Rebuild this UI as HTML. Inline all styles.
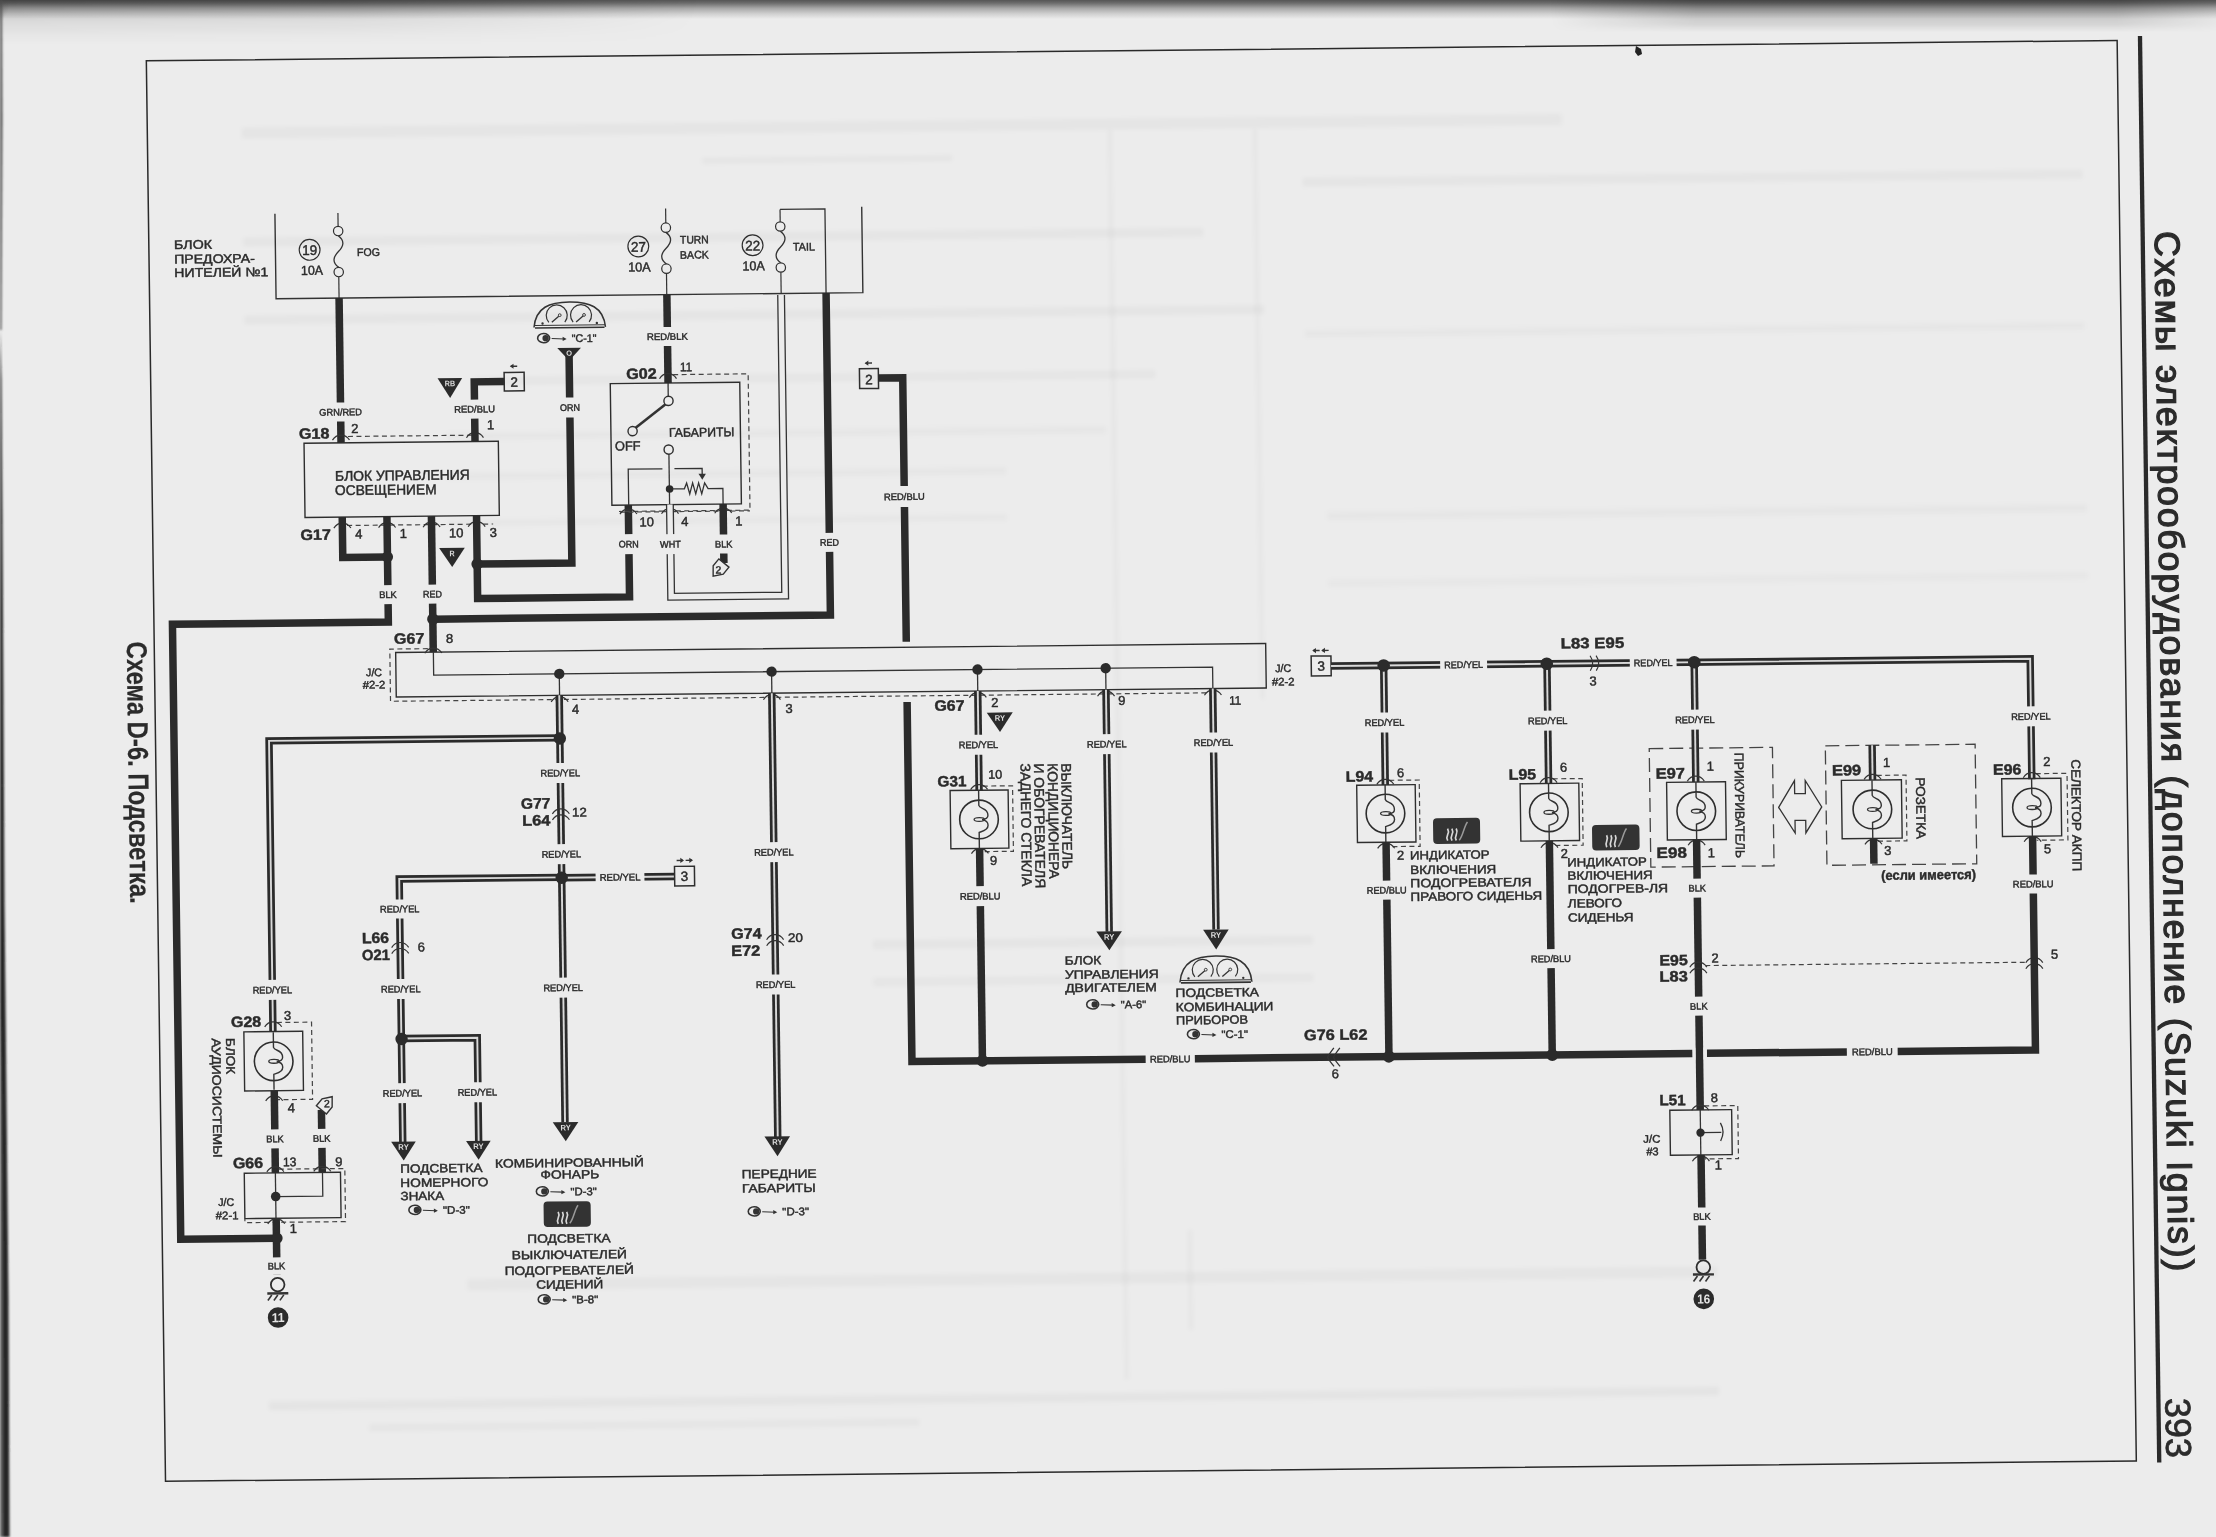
<!DOCTYPE html>
<html><head><meta charset="utf-8"><title>Схема D-6</title>
<style>
html,body{margin:0;padding:0;background:#ececec;}
body{width:2216px;height:1537px;overflow:hidden;position:relative;font-family:"Liberation Sans", sans-serif;}
#pg{position:absolute;left:0;top:0;width:2216px;height:1537px;filter:grayscale(1);}
</style></head><body>
<svg id="pg" width="2216" height="1537" viewBox="0 0 2216 1537" font-family='"Liberation Sans", sans-serif'>
<defs>
<linearGradient id="topg" x1="0" y1="0" x2="0" y2="1">
<stop offset="0" stop-color="#555"/>
<stop offset="0.17" stop-color="#6e6e6e"/>
<stop offset="0.44" stop-color="#a8a8a8"/>
<stop offset="0.72" stop-color="#cfcfcf"/>
<stop offset="1" stop-color="#ececec"/>
</linearGradient>
<linearGradient id="topl" x1="0" y1="0" x2="0" y2="1">
<stop offset="0" stop-color="#000" stop-opacity="0.22"/>
<stop offset="0.25" stop-color="#000" stop-opacity="0.14"/>
<stop offset="0.5" stop-color="#000" stop-opacity="0.07"/>
<stop offset="0.75" stop-color="#000" stop-opacity="0.025"/>
<stop offset="1" stop-color="#000" stop-opacity="0"/>
</linearGradient>
<linearGradient id="toplm" x1="0" y1="0" x2="1" y2="0">
<stop offset="0" stop-color="#fff" stop-opacity="1"/>
<stop offset="0.5" stop-color="#fff" stop-opacity="0.8"/>
<stop offset="1" stop-color="#fff" stop-opacity="0"/>
</linearGradient>
<mask id="mlt"><rect x="0" y="0" width="700" height="45" fill="url(#toplm)"/></mask>
<linearGradient id="topr" x1="0" y1="0" x2="0" y2="1">
<stop offset="0" stop-color="#000" stop-opacity="0.2"/>
<stop offset="0.4" stop-color="#000" stop-opacity="0.17"/>
<stop offset="0.75" stop-color="#000" stop-opacity="0.1"/>
<stop offset="1" stop-color="#000" stop-opacity="0"/>
</linearGradient>
<linearGradient id="toprm" x1="0" y1="0" x2="1" y2="0">
<stop offset="0" stop-color="#fff" stop-opacity="0"/>
<stop offset="0.22" stop-color="#fff" stop-opacity="1"/>
<stop offset="0.85" stop-color="#fff" stop-opacity="1"/>
<stop offset="1" stop-color="#fff" stop-opacity="0.2"/>
</linearGradient>
<mask id="mr"><rect x="1550" y="0" width="666" height="34" fill="url(#toprm)"/></mask>
<linearGradient id="leftg" x1="0" y1="0" x2="1" y2="0">
<stop offset="0" stop-color="#333"/>
<stop offset="0.35" stop-color="#666"/>
<stop offset="1" stop-color="#ececec" stop-opacity="0"/>
</linearGradient>
<linearGradient id="leftv" x1="0" y1="0" x2="0" y2="1">
<stop offset="0" stop-color="#fff" stop-opacity="0.15"/>
<stop offset="0.3" stop-color="#fff" stop-opacity="0.5"/>
<stop offset="0.45" stop-color="#fff" stop-opacity="1"/>
<stop offset="1" stop-color="#fff" stop-opacity="1"/>
</linearGradient>
<filter id="blur1" x="-50%" y="-5%" width="200%" height="110%"><feGaussianBlur stdDeviation="0.9"/></filter>
<filter id="blur2" x="-5%" y="-50%" width="110%" height="200%"><feGaussianBlur stdDeviation="2"/></filter>
<radialGradient id="corner" cx="0" cy="0" r="1">
<stop offset="0" stop-color="#222" stop-opacity="0.9"/>
<stop offset="0.5" stop-color="#333" stop-opacity="0.6"/>
<stop offset="1" stop-color="#555" stop-opacity="0"/>
</radialGradient>
<mask id="ml"><rect x="0" y="0" width="10" height="1537" fill="url(#leftv)"/></mask>
</defs>
<rect x="0" y="0" width="2216" height="1537" fill="#ececec"/>
<rect x="0" y="0" width="2216" height="19" fill="url(#topg)"/>
<rect x="0" y="0" width="700" height="45" fill="url(#topl)" mask="url(#mlt)"/>
<rect x="1550" y="0" width="666" height="32" fill="url(#topr)" mask="url(#mr)"/>
<path d="M1636,46 l5,3 l1,5 l-4,2 l-3,-4 z" fill="#222"/>
<g filter="url(#blur1)"><polygon points="0,330 1.5,380 2.5,520 3.5,700 4.5,900 6.5,1100 8.5,1300 9.5,1537 0,1537" fill="#262626"/>
<polygon points="0,1000 1.5,1100 2.8,1300 3,1537 0,1537" fill="#5e5e5e"/>
<polygon points="0,0 2,0 2.5,120 1.5,330 0,330" fill="#555"/></g>
<ellipse cx="0" cy="0" rx="16" ry="36" fill="url(#corner)"/>
<g transform="matrix(1,-0.0103,0.0135,1,0,0)" fill="#000" filter="url(#blur2)">
<rect x="240" y="130" width="1320" height="11" fill-opacity="0.03"/>
<rect x="700" y="165" width="250" height="6" fill-opacity="0.03"/>
<rect x="240" y="240" width="960" height="9" fill-opacity="0.03"/>
<rect x="240" y="318" width="1020" height="9" fill-opacity="0.03"/>
<rect x="470" y="382" width="680" height="8" fill-opacity="0.03"/>
<rect x="440" y="437" width="660" height="8" fill-opacity="0.025"/>
<rect x="440" y="477" width="560" height="8" fill-opacity="0.025"/>
<rect x="440" y="524" width="560" height="7" fill-opacity="0.025"/>
<rect x="860" y="949" width="440" height="9" fill-opacity="0.03"/>
<rect x="860" y="987" width="440" height="8" fill-opacity="0.03"/>
<rect x="450" y="1284" width="1250" height="11" fill-opacity="0.03"/>
<rect x="250" y="1404" width="1450" height="9" fill-opacity="0.035"/>
<rect x="350" y="1428" width="550" height="7" fill-opacity="0.03"/>
<rect x="1300" y="191" width="780" height="9" fill-opacity="0.03"/>
<rect x="1300" y="343" width="780" height="8" fill-opacity="0.025"/>
<rect x="1320" y="525" width="760" height="9" fill-opacity="0.025"/>
<rect x="1320" y="593" width="760" height="8" fill-opacity="0.02"/>
<rect x="1106" y="141" width="4" height="1250" fill-opacity="0.03"/>
<rect x="1251" y="142" width="4" height="570" fill-opacity="0.03"/>
<rect x="1171" y="1242" width="4" height="100" fill-opacity="0.03"/>
</g>
<g transform="matrix(1,-0.0103,0.0135,1,0,0)" fill="#2b2b2b">
<rect x="145.5" y="62.3" width="1970.8" height="1420.5" fill="none" stroke="#2a2a2a" stroke-width="1.5"/>
<polyline points="2139.2,58 2139.2,1484.5" fill="none" stroke="#2a2a2a" stroke-width="4.3" stroke-linejoin="miter" stroke-linecap="butt"/>
<polyline points="272,216.5 272,301.5 858.8,301.5 858.8,215.5" fill="none" stroke="#333" stroke-width="1.4" stroke-linejoin="miter"/>
<polyline points="335,216.5 335,229.8" fill="none" stroke="#333" stroke-width="1.2" stroke-linejoin="miter"/>
<circle cx="335" cy="234.5" r="4.7" fill="none" stroke="#2e2e2e" stroke-width="1.2"/>
<circle cx="335" cy="275.5" r="4.7" fill="none" stroke="#2e2e2e" stroke-width="1.2"/>
<path d="M335,239.2 C342,244.5 340,250 335,255 C330,260 328,265.5 335,270.8" fill="none" stroke="#333" stroke-width="1.3"/>
<polyline points="335,280.2 335,301.5" fill="none" stroke="#333" stroke-width="1.2" stroke-linejoin="miter"/>
<polyline points="662.7,215.3 662.7,229.8" fill="none" stroke="#333" stroke-width="1.2" stroke-linejoin="miter"/>
<circle cx="662.7" cy="234.5" r="4.7" fill="none" stroke="#2e2e2e" stroke-width="1.2"/>
<circle cx="662.7" cy="275.5" r="4.7" fill="none" stroke="#2e2e2e" stroke-width="1.2"/>
<path d="M662.7,239.2 C669.7,244.5 667.7,250 662.7,255 C657.7,260 655.7,265.5 662.7,270.8" fill="none" stroke="#333" stroke-width="1.3"/>
<polyline points="662.7,280.2 662.7,301.5" fill="none" stroke="#333" stroke-width="1.2" stroke-linejoin="miter"/>
<polyline points="777.1,217.4 777.1,229.8" fill="none" stroke="#333" stroke-width="1.2" stroke-linejoin="miter"/>
<circle cx="777.1" cy="234.5" r="4.7" fill="none" stroke="#2e2e2e" stroke-width="1.2"/>
<circle cx="777.1" cy="275.5" r="4.7" fill="none" stroke="#2e2e2e" stroke-width="1.2"/>
<path d="M777.1,239.2 C784.1,244.5 782.1,250 777.1,255 C772.1,260 770.1,265.5 777.1,270.8" fill="none" stroke="#333" stroke-width="1.3"/>
<polyline points="777.1,280.2 777.1,301.5" fill="none" stroke="#333" stroke-width="1.2" stroke-linejoin="miter"/>
<polyline points="777.1,217.4 822,217.4 822,301.5" fill="none" stroke="#333" stroke-width="1.3" stroke-linejoin="miter"/>
<circle cx="306.2" cy="253" r="10.4" fill="none" stroke="#2e2e2e" stroke-width="1.2"/>
<text x="306.2" y="258.2" font-size="14" text-anchor="middle" textLength="15" lengthAdjust="spacingAndGlyphs" stroke="#2b2b2b" stroke-width="0.45">19</text>
<circle cx="634.9" cy="253" r="10.4" fill="none" stroke="#2e2e2e" stroke-width="1.2"/>
<text x="634.9" y="258.2" font-size="14" text-anchor="middle" textLength="15" lengthAdjust="spacingAndGlyphs" stroke="#2b2b2b" stroke-width="0.45">27</text>
<circle cx="749.2" cy="253" r="10.4" fill="none" stroke="#2e2e2e" stroke-width="1.2"/>
<text x="749.2" y="258.2" font-size="14" text-anchor="middle" textLength="15" lengthAdjust="spacingAndGlyphs" stroke="#2b2b2b" stroke-width="0.45">22</text>
<text x="297.3" y="278" font-size="13" textLength="22" lengthAdjust="spacingAndGlyphs" stroke="#2b2b2b" stroke-width="0.45">10A</text>
<text x="624.4" y="278" font-size="13" textLength="22.5" lengthAdjust="spacingAndGlyphs" stroke="#2b2b2b" stroke-width="0.45">10A</text>
<text x="738.8" y="278" font-size="13" textLength="22.2" lengthAdjust="spacingAndGlyphs" stroke="#2b2b2b" stroke-width="0.45">10A</text>
<text x="353.5" y="259.7" font-size="11" textLength="23" lengthAdjust="spacingAndGlyphs" stroke="#2b2b2b" stroke-width="0.45">FOG</text>
<text x="676.7" y="250.5" font-size="11" textLength="28.7" lengthAdjust="spacingAndGlyphs" stroke="#2b2b2b" stroke-width="0.45">TURN</text>
<text x="676.5" y="265.7" font-size="11" textLength="28.7" lengthAdjust="spacingAndGlyphs" stroke="#2b2b2b" stroke-width="0.45">BACK</text>
<text x="789.6" y="258.7" font-size="11" textLength="21.8" lengthAdjust="spacingAndGlyphs" stroke="#2b2b2b" stroke-width="0.45">TAIL</text>
<text x="170.6" y="250.8" font-size="12.5" textLength="38" lengthAdjust="spacingAndGlyphs" stroke="#2b2b2b" stroke-width="0.45">БЛОК</text>
<text x="170.6" y="265.2" font-size="12.5" textLength="80.7" lengthAdjust="spacingAndGlyphs" stroke="#2b2b2b" stroke-width="0.45">ПРЕДОХРА-</text>
<text x="170.6" y="278.8" font-size="12.5" textLength="94" lengthAdjust="spacingAndGlyphs" stroke="#2b2b2b" stroke-width="0.45">НИТЕЛЕЙ №1</text>
<rect x="298" y="446.3" width="194.3" height="74.2" fill="none" stroke="#2e2e2e" stroke-width="1.4"/>
<text x="328.5" y="484.2" font-size="14" textLength="134.8" lengthAdjust="spacingAndGlyphs" stroke="#2b2b2b" stroke-width="0.45">БЛОК УПРАВЛЕНИЯ</text>
<text x="328.3" y="498.5" font-size="14" textLength="101.6" lengthAdjust="spacingAndGlyphs" stroke="#2b2b2b" stroke-width="0.45">ОСВЕЩЕНИЕМ</text>
<polyline points="335,301.5 335,446.3" fill="none" stroke="#2b2b2b" stroke-width="7.5" stroke-linejoin="miter" stroke-linecap="butt"/>
<rect x="329" y="406" width="12" height="19" fill="#ececec"/>
<text x="313.7" y="418.9" font-size="9.6" textLength="42.6" lengthAdjust="spacingAndGlyphs" stroke="#2b2b2b" stroke-width="0.45">GRN/RED</text>
<text x="293.1" y="441.8" font-size="15" font-weight="bold" textLength="30.5" lengthAdjust="spacingAndGlyphs" stroke="#2b2b2b" stroke-width="0.45">G18</text>
<text x="345.4" y="436.6" font-size="13" stroke="#2b2b2b" stroke-width="0.45">2</text>
<polyline points="342,440 469,440" fill="none" stroke="#444" stroke-width="1.2" stroke-dasharray="5,3.5"/>
<path d="M326.5,443.5 C329,439.5 333,438.5 335,438.5 C337,438.5 341,439.5 343.5,443.5" fill="none" stroke="#333" stroke-width="1.2"/>
<path d="M460.5,442.5 C463,438.5 467,437.5 469,437.5 C471,437.5 475,438.5 477.5,442.5" fill="none" stroke="#333" stroke-width="1.2"/>
<polyline points="469,446.3 469,386.7 499,386.7" fill="none" stroke="#2b2b2b" stroke-width="7.5" stroke-linejoin="miter" stroke-linecap="butt"/>
<rect x="463" y="404.4" width="12" height="19" fill="#ececec"/>
<text x="448.7" y="417.3" font-size="9.6" textLength="40.6" lengthAdjust="spacingAndGlyphs" stroke="#2b2b2b" stroke-width="0.45">RED/BLU</text>
<text x="481.1" y="434.3" font-size="13" stroke="#2b2b2b" stroke-width="0.45">1</text>
<rect x="499" y="377.6" width="20" height="18.6" fill="none" stroke="#2e2e2e" stroke-width="1.5"/>
<text x="509" y="392" font-size="13.5" text-anchor="middle" stroke="#2b2b2b" stroke-width="0.45">2</text>
<polyline points="505.8,371.5 512.2,371.5" fill="none" stroke="#333" stroke-width="1.4" stroke-linejoin="miter"/>
<polygon points="504.8,371.5 508.5,368.9 508.5,374.1" fill="#333"/>
<polygon points="432.4,382.6 457,382.6 444.7,402.6" fill="#2b2b2b"/>
<text x="444.7" y="390.8" font-size="8" font-weight="bold" text-anchor="middle" textLength="10.4" lengthAdjust="spacingAndGlyphs" fill="#dcdcdc">RB</text>
<text x="293.1" y="542.9" font-size="15" font-weight="bold" textLength="30.5" lengthAdjust="spacingAndGlyphs" stroke="#2b2b2b" stroke-width="0.45">G17</text>
<polyline points="340,529 486,529" fill="none" stroke="#444" stroke-width="1.2" stroke-dasharray="5,3.5"/>
<path d="M326.7,531.5 C329.2,527.5 333.2,526.5 335.2,526.5 C337.2,526.5 341.2,527.5 343.7,531.5" fill="none" stroke="#333" stroke-width="1.2"/>
<path d="M371.4,531.5 C373.9,527.5 377.9,526.5 379.9,526.5 C381.9,526.5 385.9,527.5 388.4,531.5" fill="none" stroke="#333" stroke-width="1.2"/>
<path d="M415.9,531.5 C418.4,527.5 422.4,526.5 424.4,526.5 C426.4,526.5 430.4,527.5 432.9,531.5" fill="none" stroke="#333" stroke-width="1.2"/>
<path d="M461,531.5 C463.5,527.5 467.5,526.5 469.5,526.5 C471.5,526.5 475.5,527.5 478,531.5" fill="none" stroke="#333" stroke-width="1.2"/>
<text x="348" y="542" font-size="13" stroke="#2b2b2b" stroke-width="0.45">4</text>
<text x="392.5" y="542" font-size="13" stroke="#2b2b2b" stroke-width="0.45">1</text>
<text x="441.8" y="542" font-size="13" stroke="#2b2b2b" stroke-width="0.45">10</text>
<text x="482.5" y="542" font-size="13" stroke="#2b2b2b" stroke-width="0.45">3</text>
<polyline points="335.2,520.5 335.2,561 379.9,561" fill="none" stroke="#2b2b2b" stroke-width="7.5" stroke-linejoin="miter" stroke-linecap="butt"/>
<polyline points="379.9,520.5 379.9,626 164,626 164,1241 259.7,1241" fill="none" stroke="#2b2b2b" stroke-width="7.5" stroke-linejoin="miter" stroke-linecap="butt"/>
<rect x="373.9" y="589" width="12" height="19" fill="#ececec"/>
<text x="371.1" y="601.9" font-size="9.6" textLength="17.5" lengthAdjust="spacingAndGlyphs" stroke="#2b2b2b" stroke-width="0.45">BLK</text>
<polyline points="424.4,520.5 424.4,656.3" fill="none" stroke="#2b2b2b" stroke-width="7.5" stroke-linejoin="miter" stroke-linecap="butt"/>
<rect x="418.4" y="589" width="12" height="19" fill="#ececec"/>
<text x="414.9" y="601.9" font-size="9.6" textLength="19" lengthAdjust="spacingAndGlyphs" stroke="#2b2b2b" stroke-width="0.45">RED</text>
<polyline points="424.4,623.5 822,623.5 822,301.5" fill="none" stroke="#2b2b2b" stroke-width="7.5" stroke-linejoin="miter" stroke-linecap="butt"/>
<rect x="816" y="541.3" width="12" height="19" fill="#ececec"/>
<text x="812.5" y="554.2" font-size="9.6" textLength="19" lengthAdjust="spacingAndGlyphs" stroke="#2b2b2b" stroke-width="0.45">RED</text>
<polygon points="431.7,552.5 457.3,552.5 444.5,571.5" fill="#2b2b2b"/>
<text x="444.5" y="560.7" font-size="8" font-weight="bold" text-anchor="middle" textLength="5.2" lengthAdjust="spacingAndGlyphs" fill="#dcdcdc">R</text>
<polyline points="469.5,520.5 469.5,603.3 621.4,603.3 621.4,511.4" fill="none" stroke="#2b2b2b" stroke-width="7.5" stroke-linejoin="miter" stroke-linecap="butt"/>
<polyline points="469.5,568.9 564.2,568.9 564.2,360" fill="none" stroke="#2b2b2b" stroke-width="7.5" stroke-linejoin="miter" stroke-linecap="butt"/>
<rect x="558.5" y="403.3" width="12" height="20" fill="#ececec"/>
<text x="554.5" y="416.7" font-size="9.6" textLength="20" lengthAdjust="spacingAndGlyphs" stroke="#2b2b2b" stroke-width="0.45">ORN</text>
<polygon points="552.5,353.6 576.2,353.6 566.5,364 566.5,372 562,372 562,364" fill="#2b2b2b"/>
<text x="564.4" y="361.6" font-size="7.5" font-weight="bold" text-anchor="middle" fill="#dcdcdc">O</text>
<path d="M529.5,333 C531.5,312.8 545.5,307.8 565.2,307.8 C585,307.8 599,312.8 601,333" fill="none" stroke="#333" stroke-width="1.5"/>
<polyline points="530,331 600.5,331" fill="none" stroke="#333" stroke-width="1.1" stroke-linejoin="miter"/>
<polyline points="530.5,333.4 600,333.4" fill="none" stroke="#333" stroke-width="1.6" stroke-linejoin="miter"/>
<path d="M544.4,327.9 A10.5,10.5 0 1 1 560.4,327.9" fill="none" stroke="#333" stroke-width="1.2"/>
<polyline points="547.4,327.9 554.4,321.9" fill="none" stroke="#333" stroke-width="1.3" stroke-linejoin="miter"/>
<circle cx="555.4" cy="320.9" r="1.4" fill="none" stroke="#2e2e2e" stroke-width="0.9"/>
<path d="M568.7,327.9 A10.5,10.5 0 1 1 584.7,327.9" fill="none" stroke="#333" stroke-width="1.2"/>
<polyline points="571.7,327.9 578.7,321.9" fill="none" stroke="#333" stroke-width="1.3" stroke-linejoin="miter"/>
<circle cx="579.7" cy="320.9" r="1.4" fill="none" stroke="#2e2e2e" stroke-width="0.9"/>
<circle cx="538.1" cy="329" r="1.2" fill="#333"/>
<circle cx="592.4" cy="329" r="1.2" fill="#333"/>
<ellipse cx="539" cy="343.7" rx="6" ry="4.6" fill="none" stroke="#333" stroke-width="1.6"/>
<circle cx="541" cy="343.7" r="3.2" fill="#333"/>
<polyline points="547,344.2 560,344.7" fill="none" stroke="#333" stroke-width="1.1" stroke-linejoin="miter"/>
<polygon points="562,344.7 558,342.5 558,346.7" fill="#333"/>
<text x="567" y="348" font-size="11" textLength="25" lengthAdjust="spacingAndGlyphs" stroke="#2b2b2b" stroke-width="0.45">"C-1"</text>
<rect x="605" y="389.8" width="129.5" height="121.6" fill="none" stroke="#2e2e2e" stroke-width="1.4"/>
<polyline points="668,381.5 743,381.5 743,517.8 612,517.8" fill="none" stroke="#444" stroke-width="1.2" stroke-dasharray="5,3.5"/>
<polyline points="662.8,301.5 662.8,389.8" fill="none" stroke="#2b2b2b" stroke-width="7.5" stroke-linejoin="miter" stroke-linecap="butt"/>
<rect x="656.8" y="333.8" width="12" height="19" fill="#ececec"/>
<text x="642.4" y="346.7" font-size="9.6" textLength="40.7" lengthAdjust="spacingAndGlyphs" stroke="#2b2b2b" stroke-width="0.45">RED/BLK</text>
<path d="M654.3,385.5 C656.8,381.5 660.8,380.5 662.8,380.5 C664.8,380.5 668.8,381.5 671.3,385.5" fill="none" stroke="#333" stroke-width="1.2"/>
<text x="621" y="385.4" font-size="15" font-weight="bold" textLength="30.6" lengthAdjust="spacingAndGlyphs" stroke="#2b2b2b" stroke-width="0.45">G02</text>
<text x="675" y="378.3" font-size="12.5" textLength="12" lengthAdjust="spacingAndGlyphs" stroke="#2b2b2b" stroke-width="0.45">11</text>
<polyline points="662.8,389.8 662.8,403" fill="none" stroke="#333" stroke-width="1.3" stroke-linejoin="miter"/>
<circle cx="663" cy="407.7" r="4.6" fill="none" stroke="#2e2e2e" stroke-width="1.4"/>
<polyline points="629.5,434.5 660,411" fill="none" stroke="#333" stroke-width="2.6" stroke-linejoin="miter"/>
<circle cx="626.7" cy="437.6" r="4.6" fill="none" stroke="#2e2e2e" stroke-width="1.4"/>
<text x="608.8" y="456.8" font-size="13" textLength="25.6" lengthAdjust="spacingAndGlyphs" stroke="#2b2b2b" stroke-width="0.45">OFF</text>
<text x="663" y="443.7" font-size="12.5" textLength="65.4" lengthAdjust="spacingAndGlyphs" stroke="#2b2b2b" stroke-width="0.45">ГАБАРИТЫ</text>
<circle cx="662.5" cy="456.4" r="4.6" fill="none" stroke="#2e2e2e" stroke-width="1.4"/>
<polyline points="662.7,461 662.7,511.4" fill="none" stroke="#333" stroke-width="1.3" stroke-linejoin="miter"/>
<polyline points="621.8,511.4 621.8,475.6 656,475.6" fill="none" stroke="#333" stroke-width="1.3" stroke-linejoin="miter"/>
<polyline points="668,475.6 695.7,475.6 695.7,483" fill="none" stroke="#333" stroke-width="1.3" stroke-linejoin="miter"/>
<polygon points="692,481 699.4,481 695.7,487" fill="#333"/>
<polyline points="662.9,495.8 677.7,495.8 680,490 683,501 686,490 689,501 692,490 695,501 698,490 701.4,495.8 716.2,495.8 716.2,511.4" fill="none" stroke="#333" stroke-width="1.3" stroke-linejoin="miter"/>
<polyline points="613,518.5 743,518.5" fill="none" stroke="#444" stroke-width="1.2" stroke-dasharray="5,3.5"/>
<path d="M612.9,520.5 C615.4,516.5 619.4,515.5 621.4,515.5 C623.4,515.5 627.4,516.5 629.9,520.5" fill="none" stroke="#333" stroke-width="1.2"/>
<path d="M654.5,520.5 C657,516.5 661,515.5 663,515.5 C665,515.5 669,516.5 671.5,520.5" fill="none" stroke="#333" stroke-width="1.2"/>
<path d="M707.7,520.5 C710.2,516.5 714.2,515.5 716.2,515.5 C718.2,515.5 722.2,516.5 724.7,520.5" fill="none" stroke="#333" stroke-width="1.2"/>
<text x="632.4" y="532.9" font-size="13" stroke="#2b2b2b" stroke-width="0.45">10</text>
<text x="674.1" y="532.9" font-size="13" stroke="#2b2b2b" stroke-width="0.45">4</text>
<text x="728.1" y="532.9" font-size="13" stroke="#2b2b2b" stroke-width="0.45">1</text>
<rect x="615.4" y="540.5" width="12" height="20" fill="#ececec"/>
<text x="611.4" y="553.9" font-size="9.6" textLength="20" lengthAdjust="spacingAndGlyphs" stroke="#2b2b2b" stroke-width="0.45">ORN</text>
<polyline points="663,511.4 663,603.5 777,603.5 777,303" fill="none" stroke="#333" stroke-width="8" stroke-linejoin="miter" stroke-linecap="butt"/>
<polyline points="663,511.4 663,603.5 777,603.5 777,303" fill="none" stroke="#ececec" stroke-width="5.4" stroke-linejoin="miter" stroke-linecap="butt"/>
<rect x="656" y="541" width="14" height="20" fill="#ececec"/>
<text x="652.6" y="554.4" font-size="9.6" textLength="20.8" lengthAdjust="spacingAndGlyphs" stroke="#2b2b2b" stroke-width="0.45">WHT</text>
<polyline points="716.2,511.4 716.2,570.4" fill="none" stroke="#2b2b2b" stroke-width="7.5" stroke-linejoin="miter" stroke-linecap="butt"/>
<rect x="710.2" y="541.9" width="12" height="19" fill="#ececec"/>
<text x="707.5" y="554.8" font-size="9.6" textLength="17.5" lengthAdjust="spacingAndGlyphs" stroke="#2b2b2b" stroke-width="0.45">BLK</text>
<g transform="translate(716.2,570.4) rotate(220)"><polygon points="-6.5,0 6.5,0 6.5,-9 0,-17 -6.5,-9" fill="#ececec" stroke="#333" stroke-width="1.4"/></g>
<text x="707.7" y="580.9" font-size="10.5" stroke="#2b2b2b" stroke-width="0.45">2</text>
<rect x="854.3" y="377.5" width="18.9" height="19.9" fill="none" stroke="#2e2e2e" stroke-width="1.5"/>
<text x="863.8" y="393" font-size="13.5" text-anchor="middle" stroke="#2b2b2b" stroke-width="0.45">2</text>
<polyline points="860.6,372 867,372" fill="none" stroke="#333" stroke-width="1.4" stroke-linejoin="miter"/>
<polygon points="859.6,372 863.3,369.4 863.3,374.6" fill="#333"/>
<polyline points="873.2,387 897.5,387 897.5,651" fill="none" stroke="#2b2b2b" stroke-width="7.5" stroke-linejoin="miter" stroke-linecap="butt"/>
<polyline points="897.5,711.3 897.5,1070.8 1131.2,1070.8" fill="none" stroke="#2b2b2b" stroke-width="7.5" stroke-linejoin="miter" stroke-linecap="butt"/>
<rect x="891.5" y="495.3" width="12" height="21" fill="#ececec"/>
<text x="877.2" y="509.2" font-size="9.6" textLength="40.6" lengthAdjust="spacingAndGlyphs" stroke="#2b2b2b" stroke-width="0.45">RED/BLU</text>
<rect x="386.8" y="656.5" width="870" height="44.5" fill="none" stroke="#2e2e2e" stroke-width="1.4"/>
<polyline points="419,653 381,653 381,705.2 1197,705.2" fill="none" stroke="#444" stroke-width="1.2" stroke-dasharray="5,3.5"/>
<polyline points="424.5,656.5 424.5,679.5 1203.4,679.5 1203.4,701" fill="none" stroke="#333" stroke-width="1.3" stroke-linejoin="miter"/>
<polyline points="550.1,679.5 550.1,701" fill="none" stroke="#333" stroke-width="1.3" stroke-linejoin="miter"/>
<polyline points="762.4,679.5 762.4,701" fill="none" stroke="#333" stroke-width="1.3" stroke-linejoin="miter"/>
<polyline points="968.3,679.5 968.3,701" fill="none" stroke="#333" stroke-width="1.3" stroke-linejoin="miter"/>
<polyline points="1096.5,679.5 1096.5,701" fill="none" stroke="#333" stroke-width="1.3" stroke-linejoin="miter"/>
<text x="385.3" y="647.8" font-size="15" font-weight="bold" textLength="30.3" lengthAdjust="spacingAndGlyphs" stroke="#2b2b2b" stroke-width="0.45">G67</text>
<text x="437.3" y="647.6" font-size="13" stroke="#2b2b2b" stroke-width="0.45">8</text>
<path d="M416,657.5 C418.5,653.5 422.5,652.5 424.5,652.5 C426.5,652.5 430.5,653.5 433,657.5" fill="none" stroke="#333" stroke-width="1.2"/>
<text x="364.9" y="679.9" font-size="11" text-anchor="middle" textLength="16" lengthAdjust="spacingAndGlyphs" stroke="#2b2b2b" stroke-width="0.45">J/C</text>
<text x="353.4" y="692.3" font-size="11" textLength="22.7" lengthAdjust="spacingAndGlyphs" stroke="#2b2b2b" stroke-width="0.45">#2-2</text>
<text x="1273.9" y="685.2" font-size="11" text-anchor="middle" textLength="16" lengthAdjust="spacingAndGlyphs" stroke="#2b2b2b" stroke-width="0.45">J/C</text>
<text x="1262.5" y="698.6" font-size="11" textLength="22.7" lengthAdjust="spacingAndGlyphs" stroke="#2b2b2b" stroke-width="0.45">#2-2</text>
<rect x="1302.1" y="669.5" width="19.8" height="19.8" fill="none" stroke="#2e2e2e" stroke-width="1.5"/>
<text x="1312" y="684.3" font-size="13.5" text-anchor="middle" stroke="#2b2b2b" stroke-width="0.45">3</text>
<polyline points="1304.3,664 1310.7,664" fill="none" stroke="#333" stroke-width="1.4" stroke-linejoin="miter"/>
<polygon points="1303.3,664 1307,661.4 1307,666.6" fill="#333"/>
<polyline points="1313.3,664 1319.7,664" fill="none" stroke="#333" stroke-width="1.4" stroke-linejoin="miter"/>
<polygon points="1312.3,664 1316,661.4 1316,666.6" fill="#333"/>
<path d="M541.6,707.5 C544.1,703.5 548.1,702.5 550.1,702.5 C552.1,702.5 556.1,703.5 558.6,707.5" fill="none" stroke="#333" stroke-width="1.2"/>
<path d="M753.9,707.5 C756.4,703.5 760.4,702.5 762.4,702.5 C764.4,702.5 768.4,703.5 770.9,707.5" fill="none" stroke="#333" stroke-width="1.2"/>
<path d="M959.8,707.5 C962.3,703.5 966.3,702.5 968.3,702.5 C970.3,702.5 974.3,703.5 976.8,707.5" fill="none" stroke="#333" stroke-width="1.2"/>
<path d="M1088,707.5 C1090.5,703.5 1094.5,702.5 1096.5,702.5 C1098.5,702.5 1102.5,703.5 1105,707.5" fill="none" stroke="#333" stroke-width="1.2"/>
<path d="M1194.9,707.5 C1197.4,703.5 1201.4,702.5 1203.4,702.5 C1205.4,702.5 1209.4,703.5 1211.9,707.5" fill="none" stroke="#333" stroke-width="1.2"/>
<text x="562.4" y="719.5" font-size="13" stroke="#2b2b2b" stroke-width="0.45">4</text>
<text x="775.7" y="721.1" font-size="13" stroke="#2b2b2b" stroke-width="0.45">3</text>
<text x="981.5" y="717.1" font-size="13" stroke="#2b2b2b" stroke-width="0.45">2</text>
<text x="1108.5" y="716.4" font-size="13" stroke="#2b2b2b" stroke-width="0.45">9</text>
<text x="1219.5" y="717.4" font-size="12.5" textLength="12" lengthAdjust="spacingAndGlyphs" stroke="#2b2b2b" stroke-width="0.45">11</text>
<text x="924.7" y="720.4" font-size="15" font-weight="bold" textLength="30.1" lengthAdjust="spacingAndGlyphs" stroke="#2b2b2b" stroke-width="0.45">G67</text>
<polyline points="549.8,701 549.8,1128" fill="none" stroke="#2b2b2b" stroke-width="7.4" stroke-linejoin="miter" stroke-linecap="butt"/>
<polyline points="549.8,701 549.8,1128" fill="none" stroke="#d9d9d9" stroke-width="1.9" stroke-linejoin="miter" stroke-linecap="butt"/>
<polygon points="537.5,1127.8 563.1,1127.8 550.3,1146.8" fill="#2b2b2b"/>
<text x="550.3" y="1136" font-size="8" font-weight="bold" text-anchor="middle" textLength="10.4" lengthAdjust="spacingAndGlyphs" fill="#dcdcdc">RY</text>
<rect x="543.8" y="768.6" width="12" height="20" fill="#ececec"/>
<text x="530" y="782" font-size="9.6" textLength="39.5" lengthAdjust="spacingAndGlyphs" stroke="#2b2b2b" stroke-width="0.45">RED/YEL</text>
<rect x="543.8" y="849.8" width="12" height="20" fill="#ececec"/>
<text x="530" y="863.2" font-size="9.6" textLength="39.5" lengthAdjust="spacingAndGlyphs" stroke="#2b2b2b" stroke-width="0.45">RED/YEL</text>
<rect x="543.8" y="983.3" width="12" height="20" fill="#ececec"/>
<text x="530" y="996.7" font-size="9.6" textLength="39.5" lengthAdjust="spacingAndGlyphs" stroke="#2b2b2b" stroke-width="0.45">RED/YEL</text>
<path d="M541.3,819.5 C543.8,815.5 547.8,814.5 549.8,814.5 C551.8,814.5 555.8,815.5 558.3,819.5" fill="none" stroke="#333" stroke-width="1.2"/>
<path d="M541.3,825.5 C543.8,821.5 547.8,820.5 549.8,820.5 C551.8,820.5 555.8,821.5 558.3,825.5" fill="none" stroke="#333" stroke-width="1.2"/>
<text x="510.1" y="813.9" font-size="15" font-weight="bold" textLength="29.3" lengthAdjust="spacingAndGlyphs" stroke="#2b2b2b" stroke-width="0.45">G77</text>
<text x="511" y="830.9" font-size="15" font-weight="bold" textLength="28.3" lengthAdjust="spacingAndGlyphs" stroke="#2b2b2b" stroke-width="0.45">L64</text>
<text x="561" y="822.4" font-size="12.5" textLength="14.8" lengthAdjust="spacingAndGlyphs" stroke="#2b2b2b" stroke-width="0.45">12</text>
<polyline points="549.8,743.5 259,743.5 259,1034.3" fill="none" stroke="#2b2b2b" stroke-width="7.4" stroke-linejoin="miter" stroke-linecap="butt"/>
<polyline points="549.8,743.5 259,743.5 259,1034.3" fill="none" stroke="#d9d9d9" stroke-width="1.9" stroke-linejoin="miter" stroke-linecap="butt"/>
<rect x="253" y="982.6" width="12" height="20" fill="#ececec"/>
<text x="239.2" y="996" font-size="9.6" textLength="39.5" lengthAdjust="spacingAndGlyphs" stroke="#2b2b2b" stroke-width="0.45">RED/YEL</text>
<polyline points="549.8,883.4 662.7,883.4" fill="none" stroke="#2b2b2b" stroke-width="7.4" stroke-linejoin="miter" stroke-linecap="butt"/>
<polyline points="549.8,883.4 662.7,883.4" fill="none" stroke="#d9d9d9" stroke-width="1.9" stroke-linejoin="miter" stroke-linecap="butt"/>
<rect x="583.7" y="877.4" width="48.8" height="12" fill="#ececec"/>
<text x="587.7" y="886.8" font-size="9.6" textLength="40.8" lengthAdjust="spacingAndGlyphs" stroke="#2b2b2b" stroke-width="0.45">RED/YEL</text>
<rect x="662.7" y="873.2" width="19.9" height="19.6" fill="none" stroke="#2e2e2e" stroke-width="1.5"/>
<text x="672.6" y="888" font-size="13.5" text-anchor="middle" stroke="#2b2b2b" stroke-width="0.45">3</text>
<polyline points="664.9,867.3 671.3,867.3" fill="none" stroke="#333" stroke-width="1.4" stroke-linejoin="miter"/>
<polygon points="672.3,867.3 668.6,864.7 668.6,869.9" fill="#333"/>
<polyline points="673.9,867.3 680.3,867.3" fill="none" stroke="#333" stroke-width="1.4" stroke-linejoin="miter"/>
<polygon points="681.3,867.3 677.6,864.7 677.6,869.9" fill="#333"/>
<polyline points="549.8,883 387.3,883 387.3,1146" fill="none" stroke="#2b2b2b" stroke-width="7.4" stroke-linejoin="miter" stroke-linecap="butt"/>
<polyline points="549.8,883 387.3,883 387.3,1146" fill="none" stroke="#d9d9d9" stroke-width="1.9" stroke-linejoin="miter" stroke-linecap="butt"/>
<rect x="381.3" y="903.5" width="12" height="19" fill="#ececec"/>
<text x="367.6" y="916.4" font-size="9.6" textLength="39.5" lengthAdjust="spacingAndGlyphs" stroke="#2b2b2b" stroke-width="0.45">RED/YEL</text>
<rect x="381.3" y="983" width="12" height="20" fill="#ececec"/>
<text x="367.6" y="996.4" font-size="9.6" textLength="39.5" lengthAdjust="spacingAndGlyphs" stroke="#2b2b2b" stroke-width="0.45">RED/YEL</text>
<polyline points="387.3,1042.5 463.2,1042.5 463.2,1146" fill="none" stroke="#2b2b2b" stroke-width="7.4" stroke-linejoin="miter" stroke-linecap="butt"/>
<polyline points="387.3,1042.5 463.2,1042.5 463.2,1146" fill="none" stroke="#d9d9d9" stroke-width="1.9" stroke-linejoin="miter" stroke-linecap="butt"/>
<rect x="381.7" y="1087.1" width="12" height="20" fill="#ececec"/>
<text x="367.9" y="1100.5" font-size="9.6" textLength="39.5" lengthAdjust="spacingAndGlyphs" stroke="#2b2b2b" stroke-width="0.45">RED/YEL</text>
<rect x="456.5" y="1087" width="12" height="20" fill="#ececec"/>
<text x="442.8" y="1100.4" font-size="9.6" textLength="39.5" lengthAdjust="spacingAndGlyphs" stroke="#2b2b2b" stroke-width="0.45">RED/YEL</text>
<polygon points="375.7,1145.6 400.3,1145.6 388,1164.6" fill="#2b2b2b"/>
<text x="388" y="1153.8" font-size="8" font-weight="bold" text-anchor="middle" textLength="10.4" lengthAdjust="spacingAndGlyphs" fill="#dcdcdc">RY</text>
<polygon points="450.6,1145.6 475.2,1145.6 462.9,1164.6" fill="#2b2b2b"/>
<text x="462.9" y="1153.8" font-size="8" font-weight="bold" text-anchor="middle" textLength="10.4" lengthAdjust="spacingAndGlyphs" fill="#dcdcdc">RY</text>
<path d="M378.8,951.5 C381.3,947.5 385.3,946.5 387.3,946.5 C389.3,946.5 393.3,947.5 395.8,951.5" fill="none" stroke="#333" stroke-width="1.2"/>
<path d="M378.8,957.5 C381.3,953.5 385.3,952.5 387.3,952.5 C389.3,952.5 393.3,953.5 395.8,957.5" fill="none" stroke="#333" stroke-width="1.2"/>
<text x="349.1" y="946.8" font-size="15" font-weight="bold" textLength="27.2" lengthAdjust="spacingAndGlyphs" stroke="#2b2b2b" stroke-width="0.45">L66</text>
<text x="348.9" y="963.8" font-size="15" font-weight="bold" textLength="28" lengthAdjust="spacingAndGlyphs" stroke="#2b2b2b" stroke-width="0.45">O21</text>
<text x="404.9" y="955.7" font-size="13" stroke="#2b2b2b" stroke-width="0.45">6</text>
<text x="384.3" y="1176.7" font-size="12" textLength="82.4" lengthAdjust="spacingAndGlyphs" stroke="#2b2b2b" stroke-width="0.45">ПОДСВЕТКА</text>
<text x="384.3" y="1191" font-size="12" textLength="88.1" lengthAdjust="spacingAndGlyphs" stroke="#2b2b2b" stroke-width="0.45">НОМЕРНОГО</text>
<text x="384.3" y="1204.2" font-size="12" textLength="43.6" lengthAdjust="spacingAndGlyphs" stroke="#2b2b2b" stroke-width="0.45">ЗНАКА</text>
<ellipse cx="398.5" cy="1214" rx="6" ry="4.6" fill="none" stroke="#333" stroke-width="1.6"/>
<circle cx="400.5" cy="1214" r="3.2" fill="#333"/>
<polyline points="406.5,1214.5 419.5,1215" fill="none" stroke="#333" stroke-width="1.1" stroke-linejoin="miter"/>
<polygon points="421.5,1215 417.5,1212.8 417.5,1217" fill="#333"/>
<text x="426.5" y="1218.3" font-size="11" textLength="27" lengthAdjust="spacingAndGlyphs" stroke="#2b2b2b" stroke-width="0.45">"D-3"</text>
<polyline points="762.3,701 762.3,1145" fill="none" stroke="#2b2b2b" stroke-width="7.4" stroke-linejoin="miter" stroke-linecap="butt"/>
<polyline points="762.3,701 762.3,1145" fill="none" stroke="#d9d9d9" stroke-width="1.9" stroke-linejoin="miter" stroke-linecap="butt"/>
<polygon points="749,1144.3 774.6,1144.3 761.8,1164.2" fill="#2b2b2b"/>
<text x="761.8" y="1152.5" font-size="8" font-weight="bold" text-anchor="middle" textLength="10.4" lengthAdjust="spacingAndGlyphs" fill="#dcdcdc">RY</text>
<rect x="756.3" y="850" width="12" height="20" fill="#ececec"/>
<text x="742.5" y="863.4" font-size="9.6" textLength="39.5" lengthAdjust="spacingAndGlyphs" stroke="#2b2b2b" stroke-width="0.45">RED/YEL</text>
<rect x="756.3" y="982.3" width="12" height="20" fill="#ececec"/>
<text x="742.5" y="995.7" font-size="9.6" textLength="39.5" lengthAdjust="spacingAndGlyphs" stroke="#2b2b2b" stroke-width="0.45">RED/YEL</text>
<path d="M753.8,947.5 C756.3,943.5 760.3,942.5 762.3,942.5 C764.3,942.5 768.3,943.5 770.8,947.5" fill="none" stroke="#333" stroke-width="1.2"/>
<path d="M753.8,953.5 C756.3,949.5 760.3,948.5 762.3,948.5 C764.3,948.5 768.3,949.5 770.8,953.5" fill="none" stroke="#333" stroke-width="1.2"/>
<text x="718.5" y="946.2" font-size="15" font-weight="bold" textLength="30.4" lengthAdjust="spacingAndGlyphs" stroke="#2b2b2b" stroke-width="0.45">G74</text>
<text x="718.3" y="963.3" font-size="15" font-weight="bold" textLength="29" lengthAdjust="spacingAndGlyphs" stroke="#2b2b2b" stroke-width="0.45">E72</text>
<text x="775.3" y="950.1" font-size="12.5" textLength="14.9" lengthAdjust="spacingAndGlyphs" stroke="#2b2b2b" stroke-width="0.45">20</text>
<text x="725.8" y="1185.8" font-size="12" textLength="74.9" lengthAdjust="spacingAndGlyphs" stroke="#2b2b2b" stroke-width="0.45">ПЕРЕДНИЕ</text>
<text x="725.8" y="1200" font-size="12" textLength="73.9" lengthAdjust="spacingAndGlyphs" stroke="#2b2b2b" stroke-width="0.45">ГАБАРИТЫ</text>
<ellipse cx="737.8" cy="1219" rx="6" ry="4.6" fill="none" stroke="#333" stroke-width="1.6"/>
<circle cx="739.8" cy="1219" r="3.2" fill="#333"/>
<polyline points="745.8,1219.5 758.8,1220" fill="none" stroke="#333" stroke-width="1.1" stroke-linejoin="miter"/>
<polygon points="760.8,1220 756.8,1217.8 756.8,1222" fill="#333"/>
<text x="765.8" y="1223.3" font-size="11" textLength="26.8" lengthAdjust="spacingAndGlyphs" stroke="#2b2b2b" stroke-width="0.45">"D-3"</text>
<text x="479.2" y="1172.6" font-size="12" textLength="148.8" lengthAdjust="spacingAndGlyphs" stroke="#2b2b2b" stroke-width="0.45">КОМБИНИРОВАННЫЙ</text>
<text x="524.5" y="1184.2" font-size="12" textLength="58.8" lengthAdjust="spacingAndGlyphs" stroke="#2b2b2b" stroke-width="0.45">ФОНАРЬ</text>
<ellipse cx="526.2" cy="1196.8" rx="6" ry="4.6" fill="none" stroke="#333" stroke-width="1.6"/>
<circle cx="528.2" cy="1196.8" r="3.2" fill="#333"/>
<polyline points="534.2,1197.3 547.2,1197.8" fill="none" stroke="#333" stroke-width="1.1" stroke-linejoin="miter"/>
<polygon points="549.2,1197.8 545.2,1195.6 545.2,1199.8" fill="#333"/>
<text x="554.2" y="1201.1" font-size="11" textLength="26.5" lengthAdjust="spacingAndGlyphs" stroke="#2b2b2b" stroke-width="0.45">"D-3"</text>
<rect x="527.2" y="1207" width="47.1" height="25.5" rx="4" fill="#333"/>
<path d="M541.7,1217.5 q1.6,3 0,6 q-1.6,3 0,6" fill="none" stroke="#d8d8d8" stroke-width="1.7"/>
<path d="M546,1217.5 q1.6,3 0,6 q-1.6,3 0,6" fill="none" stroke="#d8d8d8" stroke-width="1.7"/>
<path d="M550.3,1217.5 q1.6,3 0,6 q-1.6,3 0,6" fill="none" stroke="#d8d8d8" stroke-width="1.7"/>
<path d="M553.2,1229 C557.2,1224.5 558.2,1215 561.7,1211" fill="none" stroke="#9a9a9a" stroke-width="1.5"/>
<text x="510.5" y="1248.2" font-size="12" textLength="83.3" lengthAdjust="spacingAndGlyphs" stroke="#2b2b2b" stroke-width="0.45">ПОДСВЕТКА</text>
<text x="494.6" y="1264.4" font-size="12" textLength="115.4" lengthAdjust="spacingAndGlyphs" stroke="#2b2b2b" stroke-width="0.45">ВЫКЛЮЧАТЕЛЕЙ</text>
<text x="487.4" y="1280.1" font-size="12" textLength="129.4" lengthAdjust="spacingAndGlyphs" stroke="#2b2b2b" stroke-width="0.45">ПОДОГРЕВАТЕЛЕЙ</text>
<text x="518.7" y="1294.1" font-size="12" textLength="67.2" lengthAdjust="spacingAndGlyphs" stroke="#2b2b2b" stroke-width="0.45">СИДЕНИЙ</text>
<ellipse cx="526.6" cy="1304.8" rx="6" ry="4.6" fill="none" stroke="#333" stroke-width="1.6"/>
<circle cx="528.6" cy="1304.8" r="3.2" fill="#333"/>
<polyline points="534.6,1305.3 547.6,1305.8" fill="none" stroke="#333" stroke-width="1.1" stroke-linejoin="miter"/>
<polygon points="549.6,1305.8 545.6,1303.6 545.6,1307.8" fill="#333"/>
<text x="554.6" y="1309.1" font-size="11" textLength="26" lengthAdjust="spacingAndGlyphs" stroke="#2b2b2b" stroke-width="0.45">"B-8"</text>
<rect x="229.9" y="1034.2" width="58.8" height="59.2" fill="none" stroke="#2e2e2e" stroke-width="1.4"/>
<circle cx="259.3" cy="1064" r="19.3" fill="none" stroke="#2e2e2e" stroke-width="1.6"/>
<path d="M259.3,1035 L259.3,1050 C260.3,1054 268.3,1052 268.3,1060 C268.3,1063 265.3,1064 262.3,1064 M262.3,1064.5 C267.3,1065 268.3,1067 268.3,1070 C268.3,1075 262.3,1076 259.3,1077 L259.3,1092.5" fill="none" stroke="#333" stroke-width="1.4"/>
<ellipse cx="259.6" cy="1064" rx="5.2" ry="1.9" fill="none" stroke="#333" stroke-width="1.3"/>
<polyline points="263,1025.2 297.7,1025.2 297.7,1102.4 263,1102.4" fill="none" stroke="#444" stroke-width="1.2" stroke-dasharray="5,3.5"/>
<path d="M250.8,1029.5 C253.3,1025.5 257.3,1024.5 259.3,1024.5 C261.3,1024.5 265.3,1025.5 267.8,1029.5" fill="none" stroke="#333" stroke-width="1.2"/>
<path d="M250.8,1103.5 C253.3,1099.5 257.3,1098.5 259.3,1098.5 C261.3,1098.5 265.3,1099.5 267.8,1103.5" fill="none" stroke="#333" stroke-width="1.2"/>
<text x="217.1" y="1029.3" font-size="15" font-weight="bold" textLength="30.3" lengthAdjust="spacingAndGlyphs" stroke="#2b2b2b" stroke-width="0.45">G28</text>
<text x="270.2" y="1022.9" font-size="13" stroke="#2b2b2b" stroke-width="0.45">3</text>
<text transform="translate(211.9,1040.3) rotate(90)" font-size="12.5" textLength="36" lengthAdjust="spacingAndGlyphs" stroke="#2b2b2b" stroke-width="0.45">БЛОК</text>
<text transform="translate(197.7,1040.2) rotate(90)" font-size="12.5" textLength="119.5" lengthAdjust="spacingAndGlyphs" stroke="#2b2b2b" stroke-width="0.45">АУДИОСИСТЕМЫ</text>
<polyline points="259.5,1093.4 259.5,1175.6" fill="none" stroke="#2b2b2b" stroke-width="7.5" stroke-linejoin="miter" stroke-linecap="butt"/>
<rect x="253.5" y="1132" width="12" height="19" fill="#ececec"/>
<text x="250.8" y="1144.9" font-size="9.6" textLength="17.5" lengthAdjust="spacingAndGlyphs" stroke="#2b2b2b" stroke-width="0.45">BLK</text>
<text x="272.8" y="1115" font-size="13" stroke="#2b2b2b" stroke-width="0.45">4</text>
<polyline points="306.4,1113 306.4,1175.6" fill="none" stroke="#2b2b2b" stroke-width="7.5" stroke-linejoin="miter" stroke-linecap="butt"/>
<rect x="300.4" y="1132" width="12" height="19" fill="#ececec"/>
<text x="297.6" y="1144.9" font-size="9.6" textLength="17.5" lengthAdjust="spacingAndGlyphs" stroke="#2b2b2b" stroke-width="0.45">BLK</text>
<g transform="translate(306.4,1113) rotate(40)"><polygon points="-6.5,0 6.5,0 6.5,-9 0,-17 -6.5,-9" fill="#ececec" stroke="#333" stroke-width="1.4"/></g>
<text x="308.9" y="1110.5" font-size="10.5" stroke="#2b2b2b" stroke-width="0.45">2</text>
<rect x="228.4" y="1175.6" width="96.2" height="45.4" fill="none" stroke="#2e2e2e" stroke-width="1.4"/>
<polyline points="263,1171.9 329,1171.9 329,1225 228.4,1225 228.4,1221" fill="none" stroke="#444" stroke-width="1.2" stroke-dasharray="5,3.5"/>
<polyline points="259.5,1175.6 259.5,1221" fill="none" stroke="#333" stroke-width="1.3" stroke-linejoin="miter"/>
<polyline points="259.5,1199.2 306.6,1199.2 306.6,1175.6" fill="none" stroke="#333" stroke-width="1.3" stroke-linejoin="miter"/>
<text x="217.1" y="1170.5" font-size="15" font-weight="bold" textLength="30.3" lengthAdjust="spacingAndGlyphs" stroke="#2b2b2b" stroke-width="0.45">G66</text>
<text x="267.3" y="1169" font-size="12.5" textLength="13.4" lengthAdjust="spacingAndGlyphs" stroke="#2b2b2b" stroke-width="0.45">13</text>
<text x="319.5" y="1169.5" font-size="13" stroke="#2b2b2b" stroke-width="0.45">9</text>
<path d="M251,1174.5 C253.5,1170.5 257.5,1169.5 259.5,1169.5 C261.5,1169.5 265.5,1170.5 268,1174.5" fill="none" stroke="#333" stroke-width="1.2"/>
<path d="M297.9,1174.5 C300.4,1170.5 304.4,1169.5 306.4,1169.5 C308.4,1169.5 312.4,1170.5 314.9,1174.5" fill="none" stroke="#333" stroke-width="1.2"/>
<text x="209.9" y="1208.2" font-size="11" text-anchor="middle" textLength="16" lengthAdjust="spacingAndGlyphs" stroke="#2b2b2b" stroke-width="0.45">J/C</text>
<text x="199.3" y="1221.4" font-size="11" textLength="22.8" lengthAdjust="spacingAndGlyphs" stroke="#2b2b2b" stroke-width="0.45">#2-1</text>
<polyline points="259.7,1221 259.7,1277" fill="none" stroke="#2b2b2b" stroke-width="7.5" stroke-linejoin="miter" stroke-linecap="butt"/>
<path d="M251.2,1226.5 C253.7,1222.5 257.7,1221.5 259.7,1221.5 C261.7,1221.5 265.7,1222.5 268.2,1226.5" fill="none" stroke="#333" stroke-width="1.2"/>
<text x="273" y="1235.9" font-size="13" stroke="#2b2b2b" stroke-width="0.45">1</text>
<rect x="253.3" y="1260.1" width="12" height="17" fill="#ececec"/>
<text x="250.6" y="1272" font-size="9.6" textLength="17.5" lengthAdjust="spacingAndGlyphs" stroke="#2b2b2b" stroke-width="0.45">BLK</text>
<circle cx="260.3" cy="1287.3" r="6.8" fill="none" stroke="#2e2e2e" stroke-width="1.8"/>
<polyline points="249.8,1296.1 270.8,1296.1" fill="none" stroke="#333" stroke-width="2.4" stroke-linejoin="miter"/>
<polyline points="254.3,1297.6 250.3,1303.1" fill="none" stroke="#333" stroke-width="1.6" stroke-linejoin="miter"/>
<polyline points="260.3,1297.6 256.3,1303.1" fill="none" stroke="#333" stroke-width="1.6" stroke-linejoin="miter"/>
<polyline points="266.3,1297.6 262.3,1303.1" fill="none" stroke="#333" stroke-width="1.6" stroke-linejoin="miter"/>
<circle cx="260.3" cy="1320.2" r="10.3" fill="#2b2b2b"/>
<text x="260.3" y="1324.8" font-size="13" font-weight="bold" text-anchor="middle" textLength="13" lengthAdjust="spacingAndGlyphs" fill="#e5e5e5">11</text>
<polyline points="968.3,701 968.3,800.2" fill="none" stroke="#2b2b2b" stroke-width="7.4" stroke-linejoin="miter" stroke-linecap="butt"/>
<polyline points="968.3,701 968.3,800.2" fill="none" stroke="#d9d9d9" stroke-width="1.9" stroke-linejoin="miter" stroke-linecap="butt"/>
<rect x="962.3" y="744.7" width="12" height="20" fill="#ececec"/>
<text x="948.5" y="758.1" font-size="9.6" textLength="39.5" lengthAdjust="spacingAndGlyphs" stroke="#2b2b2b" stroke-width="0.45">RED/YEL</text>
<polygon points="977,722.7 1003,722.7 990,742.3" fill="#2b2b2b"/>
<text x="990" y="730.9" font-size="8" font-weight="bold" text-anchor="middle" textLength="10.4" lengthAdjust="spacingAndGlyphs" fill="#dcdcdc">RY</text>
<rect x="939.3" y="800.2" width="58" height="58.2" fill="none" stroke="#2e2e2e" stroke-width="1.4"/>
<circle cx="967.8" cy="829.4" r="19.3" fill="none" stroke="#2e2e2e" stroke-width="1.6"/>
<path d="M967.8,800.4 L967.8,815.4 C968.8,819.4 976.8,817.4 976.8,825.4 C976.8,828.4 973.8,829.4 970.8,829.4 M970.8,829.9 C975.8,830.4 976.8,832.4 976.8,835.4 C976.8,840.4 970.8,841.4 967.8,842.4 L967.8,857.9" fill="none" stroke="#333" stroke-width="1.4"/>
<ellipse cx="968.1" cy="829.4" rx="5.2" ry="1.9" fill="none" stroke="#333" stroke-width="1.3"/>
<polyline points="972,796.1 1001.8,796.1 1001.8,861.6 972,861.6" fill="none" stroke="#444" stroke-width="1.2" stroke-dasharray="5,3.5"/>
<path d="M959.8,799.5 C962.3,795.5 966.3,794.5 968.3,794.5 C970.3,794.5 974.3,795.5 976.8,799.5" fill="none" stroke="#333" stroke-width="1.2"/>
<path d="M959.8,863.5 C962.3,859.5 966.3,858.5 968.3,858.5 C970.3,858.5 974.3,859.5 976.8,863.5" fill="none" stroke="#333" stroke-width="1.2"/>
<text x="926.8" y="796.1" font-size="15" font-weight="bold" textLength="29" lengthAdjust="spacingAndGlyphs" stroke="#2b2b2b" stroke-width="0.45">G31</text>
<text x="977.5" y="788.9" font-size="12.5" textLength="14" lengthAdjust="spacingAndGlyphs" stroke="#2b2b2b" stroke-width="0.45">10</text>
<text x="978.3" y="875.1" font-size="13" stroke="#2b2b2b" stroke-width="0.45">9</text>
<polyline points="968,858.4 968,1070.8" fill="none" stroke="#2b2b2b" stroke-width="7.5" stroke-linejoin="miter" stroke-linecap="butt"/>
<rect x="962" y="896.1" width="12" height="20" fill="#ececec"/>
<text x="947.7" y="909.5" font-size="9.6" textLength="40.6" lengthAdjust="spacingAndGlyphs" stroke="#2b2b2b" stroke-width="0.45">RED/BLU</text>
<text transform="translate(1050.8,774) rotate(90)" font-size="14" textLength="106" lengthAdjust="spacingAndGlyphs" stroke="#2b2b2b" stroke-width="0.45">ВЫКЛЮЧАТЕЛЬ</text>
<text transform="translate(1037.3,774) rotate(90)" font-size="14" textLength="115.5" lengthAdjust="spacingAndGlyphs" stroke="#2b2b2b" stroke-width="0.45">КОНДИЦИОНЕРА</text>
<text transform="translate(1023.5,774) rotate(90)" font-size="14" textLength="124.8" lengthAdjust="spacingAndGlyphs" stroke="#2b2b2b" stroke-width="0.45">И ОБОГРЕВАТЕЛЯ</text>
<text transform="translate(1010,774) rotate(90)" font-size="14" textLength="122.7" lengthAdjust="spacingAndGlyphs" stroke="#2b2b2b" stroke-width="0.45">ЗАДНЕГО СТЕКЛА</text>
<polyline points="1096.5,701 1096.5,943" fill="none" stroke="#2b2b2b" stroke-width="7.4" stroke-linejoin="miter" stroke-linecap="butt"/>
<polyline points="1096.5,701 1096.5,943" fill="none" stroke="#d9d9d9" stroke-width="1.9" stroke-linejoin="miter" stroke-linecap="butt"/>
<rect x="1090.5" y="745.4" width="12" height="20" fill="#ececec"/>
<text x="1076.8" y="758.8" font-size="9.6" textLength="39.5" lengthAdjust="spacingAndGlyphs" stroke="#2b2b2b" stroke-width="0.45">RED/YEL</text>
<polygon points="1083.6,942.7 1109.2,942.7 1096.4,961.6" fill="#2b2b2b"/>
<text x="1096.4" y="950.9" font-size="8" font-weight="bold" text-anchor="middle" textLength="10.4" lengthAdjust="spacingAndGlyphs" fill="#dcdcdc">RY</text>
<polyline points="1203.3,701 1203.3,942" fill="none" stroke="#2b2b2b" stroke-width="7.4" stroke-linejoin="miter" stroke-linecap="butt"/>
<polyline points="1203.3,701 1203.3,942" fill="none" stroke="#d9d9d9" stroke-width="1.9" stroke-linejoin="miter" stroke-linecap="butt"/>
<rect x="1197.3" y="744.9" width="12" height="20" fill="#ececec"/>
<text x="1183.5" y="758.3" font-size="9.6" textLength="39.5" lengthAdjust="spacingAndGlyphs" stroke="#2b2b2b" stroke-width="0.45">RED/YEL</text>
<polygon points="1190.4,941.9 1216,941.9 1203.2,961.8" fill="#2b2b2b"/>
<text x="1203.2" y="950.1" font-size="8" font-weight="bold" text-anchor="middle" textLength="10.4" lengthAdjust="spacingAndGlyphs" fill="#dcdcdc">RY</text>
<text x="1051.6" y="975.5" font-size="12" textLength="36.4" lengthAdjust="spacingAndGlyphs" stroke="#2b2b2b" stroke-width="0.45">БЛОК</text>
<text x="1051.6" y="989.7" font-size="12" textLength="93.8" lengthAdjust="spacingAndGlyphs" stroke="#2b2b2b" stroke-width="0.45">УПРАВЛЕНИЯ</text>
<text x="1051.6" y="1003" font-size="12" textLength="91.9" lengthAdjust="spacingAndGlyphs" stroke="#2b2b2b" stroke-width="0.45">ДВИГАТЕЛЕМ</text>
<ellipse cx="1079" cy="1015.5" rx="6" ry="4.6" fill="none" stroke="#333" stroke-width="1.6"/>
<circle cx="1081" cy="1015.5" r="3.2" fill="#333"/>
<polyline points="1087,1016 1100,1016.5" fill="none" stroke="#333" stroke-width="1.1" stroke-linejoin="miter"/>
<polygon points="1102,1016.5 1098,1014.3 1098,1018.5" fill="#333"/>
<text x="1107" y="1019.8" font-size="11" textLength="25.5" lengthAdjust="spacingAndGlyphs" stroke="#2b2b2b" stroke-width="0.45">"A-6"</text>
<path d="M1166.5,994.5 C1168.5,973.5 1182.5,968.5 1202.5,968.5 C1222.5,968.5 1236.5,973.5 1238.5,994.5" fill="none" stroke="#333" stroke-width="1.5"/>
<polyline points="1167,992.5 1238,992.5" fill="none" stroke="#333" stroke-width="1.1" stroke-linejoin="miter"/>
<polyline points="1167.5,994.9 1237.5,994.9" fill="none" stroke="#333" stroke-width="1.6" stroke-linejoin="miter"/>
<path d="M1181.5,989 A10.5,10.5 0 1 1 1197.5,989" fill="none" stroke="#333" stroke-width="1.2"/>
<polyline points="1184.5,989 1191.5,983" fill="none" stroke="#333" stroke-width="1.3" stroke-linejoin="miter"/>
<circle cx="1192.5" cy="982" r="1.4" fill="none" stroke="#2e2e2e" stroke-width="0.9"/>
<path d="M1206,989 A10.5,10.5 0 1 1 1222,989" fill="none" stroke="#333" stroke-width="1.2"/>
<polyline points="1209,989 1216,983" fill="none" stroke="#333" stroke-width="1.3" stroke-linejoin="miter"/>
<circle cx="1217" cy="982" r="1.4" fill="none" stroke="#2e2e2e" stroke-width="0.9"/>
<circle cx="1175.1" cy="990.5" r="1.2" fill="#333"/>
<circle cx="1229.9" cy="990.5" r="1.2" fill="#333"/>
<text x="1162" y="1009" font-size="12" textLength="83.4" lengthAdjust="spacingAndGlyphs" stroke="#2b2b2b" stroke-width="0.45">ПОДСВЕТКА</text>
<text x="1162" y="1023.2" font-size="12" textLength="97.6" lengthAdjust="spacingAndGlyphs" stroke="#2b2b2b" stroke-width="0.45">КОМБИНАЦИИ</text>
<text x="1162" y="1036.4" font-size="12" textLength="72" lengthAdjust="spacingAndGlyphs" stroke="#2b2b2b" stroke-width="0.45">ПРИБОРОВ</text>
<ellipse cx="1179.3" cy="1046.3" rx="6" ry="4.6" fill="none" stroke="#333" stroke-width="1.6"/>
<circle cx="1181.3" cy="1046.3" r="3.2" fill="#333"/>
<polyline points="1187.3,1046.8 1200.3,1047.3" fill="none" stroke="#333" stroke-width="1.1" stroke-linejoin="miter"/>
<polygon points="1202.3,1047.3 1198.3,1045.1 1198.3,1049.3" fill="#333"/>
<text x="1207.3" y="1050.6" font-size="11" textLength="26.6" lengthAdjust="spacingAndGlyphs" stroke="#2b2b2b" stroke-width="0.45">"C-1"</text>
<polyline points="1321.9,679.6 2021,679.6 2021,800" fill="none" stroke="#2b2b2b" stroke-width="7.4" stroke-linejoin="miter" stroke-linecap="butt"/>
<polyline points="1321.9,679.6 2021,679.6 2021,800" fill="none" stroke="#d9d9d9" stroke-width="1.9" stroke-linejoin="miter" stroke-linecap="butt"/>
<rect x="1431" y="673.6" width="46.9" height="12" fill="#ececec"/>
<text x="1435" y="683" font-size="9.6" textLength="38.9" lengthAdjust="spacingAndGlyphs" stroke="#2b2b2b" stroke-width="0.45">RED/YEL</text>
<rect x="1620.6" y="673.6" width="46.8" height="12" fill="#ececec"/>
<text x="1624.6" y="683" font-size="9.6" textLength="38.8" lengthAdjust="spacingAndGlyphs" stroke="#2b2b2b" stroke-width="0.45">RED/YEL</text>
<path d="M1581,672 q5,7.5 0,15 M1587,672 q5,7.5 0,15" fill="none" stroke="#333" stroke-width="1.2"/>
<text x="1551.8" y="664.5" font-size="15" font-weight="bold" textLength="63.5" lengthAdjust="spacingAndGlyphs" stroke="#2b2b2b" stroke-width="0.45">L83 E95</text>
<text x="1580" y="701.8" font-size="13" stroke="#2b2b2b" stroke-width="0.45">3</text>
<polyline points="1374.5,679.6 1374.5,799.2" fill="none" stroke="#2b2b2b" stroke-width="7.4" stroke-linejoin="miter" stroke-linecap="butt"/>
<polyline points="1374.5,679.6 1374.5,799.2" fill="none" stroke="#d9d9d9" stroke-width="1.9" stroke-linejoin="miter" stroke-linecap="butt"/>
<rect x="1368.5" y="726.6" width="12" height="20" fill="#ececec"/>
<text x="1354.8" y="740" font-size="9.6" textLength="39.5" lengthAdjust="spacingAndGlyphs" stroke="#2b2b2b" stroke-width="0.45">RED/YEL</text>
<rect x="1345.9" y="799.1" width="58.5" height="57.3" fill="none" stroke="#2e2e2e" stroke-width="1.4"/>
<circle cx="1374.3" cy="827.7" r="19.3" fill="none" stroke="#2e2e2e" stroke-width="1.6"/>
<path d="M1374.3,798.7 L1374.3,813.7 C1375.3,817.7 1383.3,815.7 1383.3,823.7 C1383.3,826.7 1380.3,827.7 1377.3,827.7 M1377.3,828.2 C1382.3,828.7 1383.3,830.7 1383.3,833.7 C1383.3,838.7 1377.3,839.7 1374.3,840.7 L1374.3,856.2" fill="none" stroke="#333" stroke-width="1.4"/>
<ellipse cx="1374.6" cy="827.7" rx="5.2" ry="1.9" fill="none" stroke="#333" stroke-width="1.3"/>
<polyline points="1378.5,794.5 1408.5,794.5 1408.5,860.8 1378.5,860.8" fill="none" stroke="#444" stroke-width="1.2" stroke-dasharray="5,3.5"/>
<path d="M1366,798.5 C1368.5,794.5 1372.5,793.5 1374.5,793.5 C1376.5,793.5 1380.5,794.5 1383,798.5" fill="none" stroke="#333" stroke-width="1.2"/>
<path d="M1366,862.5 C1368.5,858.5 1372.5,857.5 1374.5,857.5 C1376.5,857.5 1380.5,858.5 1383,862.5" fill="none" stroke="#333" stroke-width="1.2"/>
<text x="1335" y="795.4" font-size="15" font-weight="bold" textLength="27.5" lengthAdjust="spacingAndGlyphs" stroke="#2b2b2b" stroke-width="0.45">L94</text>
<text x="1386.2" y="791.6" font-size="13" stroke="#2b2b2b" stroke-width="0.45">6</text>
<text x="1385.1" y="874.1" font-size="13" stroke="#2b2b2b" stroke-width="0.45">2</text>
<polyline points="1374.5,856.4 1374.5,1070.8" fill="none" stroke="#2b2b2b" stroke-width="7.5" stroke-linejoin="miter" stroke-linecap="butt"/>
<rect x="1368.5" y="894.8" width="12" height="19" fill="#ececec"/>
<text x="1354.5" y="907.7" font-size="9.6" textLength="40" lengthAdjust="spacingAndGlyphs" stroke="#2b2b2b" stroke-width="0.45">RED/BLU</text>
<rect x="1421.7" y="832.9" width="47" height="25.7" rx="4" fill="#333"/>
<path d="M1436.2,843.4 q1.6,3 0,6 q-1.6,3 0,6" fill="none" stroke="#d8d8d8" stroke-width="1.7"/>
<path d="M1440.5,843.4 q1.6,3 0,6 q-1.6,3 0,6" fill="none" stroke="#d8d8d8" stroke-width="1.7"/>
<path d="M1444.8,843.4 q1.6,3 0,6 q-1.6,3 0,6" fill="none" stroke="#d8d8d8" stroke-width="1.7"/>
<path d="M1447.7,855.1 C1451.7,850.6 1452.7,840.9 1456.2,836.9" fill="none" stroke="#9a9a9a" stroke-width="1.5"/>
<text x="1398.2" y="873.8" font-size="12" textLength="79.5" lengthAdjust="spacingAndGlyphs" stroke="#2b2b2b" stroke-width="0.45">ИНДИКАТОР</text>
<text x="1398.2" y="888.5" font-size="12" textLength="86.2" lengthAdjust="spacingAndGlyphs" stroke="#2b2b2b" stroke-width="0.45">ВКЛЮЧЕНИЯ</text>
<text x="1398.2" y="901.7" font-size="12" textLength="121.2" lengthAdjust="spacingAndGlyphs" stroke="#2b2b2b" stroke-width="0.45">ПОДОГРЕВАТЕЛЯ</text>
<text x="1398.2" y="915.3" font-size="12" textLength="131.7" lengthAdjust="spacingAndGlyphs" stroke="#2b2b2b" stroke-width="0.45">ПРАВОГО СИДЕНЬЯ</text>
<polyline points="1537.8,679.6 1537.8,799.3" fill="none" stroke="#2b2b2b" stroke-width="7.4" stroke-linejoin="miter" stroke-linecap="butt"/>
<polyline points="1537.8,679.6 1537.8,799.3" fill="none" stroke="#d9d9d9" stroke-width="1.9" stroke-linejoin="miter" stroke-linecap="butt"/>
<rect x="1531.8" y="726.5" width="12" height="20" fill="#ececec"/>
<text x="1518" y="739.9" font-size="9.6" textLength="39.5" lengthAdjust="spacingAndGlyphs" stroke="#2b2b2b" stroke-width="0.45">RED/YEL</text>
<rect x="1509.3" y="799.3" width="58.7" height="57.4" fill="none" stroke="#2e2e2e" stroke-width="1.4"/>
<circle cx="1537.7" cy="828.2" r="19.3" fill="none" stroke="#2e2e2e" stroke-width="1.6"/>
<path d="M1537.7,799.2 L1537.7,814.2 C1538.7,818.2 1546.7,816.2 1546.7,824.2 C1546.7,827.2 1543.7,828.2 1540.7,828.2 M1540.7,828.7 C1545.7,829.2 1546.7,831.2 1546.7,834.2 C1546.7,839.2 1540.7,840.2 1537.7,841.2 L1537.7,856.7" fill="none" stroke="#333" stroke-width="1.4"/>
<ellipse cx="1538" cy="828.2" rx="5.2" ry="1.9" fill="none" stroke="#333" stroke-width="1.3"/>
<polyline points="1542,794.7 1571.5,794.7 1571.5,861.4 1542,861.4" fill="none" stroke="#444" stroke-width="1.2" stroke-dasharray="5,3.5"/>
<path d="M1529.3,798.5 C1531.8,794.5 1535.8,793.5 1537.8,793.5 C1539.8,793.5 1543.8,794.5 1546.3,798.5" fill="none" stroke="#333" stroke-width="1.2"/>
<path d="M1529.3,863.5 C1531.8,859.5 1535.8,858.5 1537.8,858.5 C1539.8,858.5 1543.8,859.5 1546.3,863.5" fill="none" stroke="#333" stroke-width="1.2"/>
<text x="1498" y="795.1" font-size="15" font-weight="bold" textLength="27.5" lengthAdjust="spacingAndGlyphs" stroke="#2b2b2b" stroke-width="0.45">L95</text>
<text x="1549.3" y="787.7" font-size="13" stroke="#2b2b2b" stroke-width="0.45">6</text>
<text x="1549" y="874" font-size="13" stroke="#2b2b2b" stroke-width="0.45">2</text>
<polyline points="1537.8,856.7 1537.8,1070.8" fill="none" stroke="#2b2b2b" stroke-width="7.5" stroke-linejoin="miter" stroke-linecap="butt"/>
<rect x="1531.8" y="965" width="12" height="19" fill="#ececec"/>
<text x="1517.8" y="977.9" font-size="9.6" textLength="40" lengthAdjust="spacingAndGlyphs" stroke="#2b2b2b" stroke-width="0.45">RED/BLU</text>
<rect x="1580.6" y="841.2" width="47.4" height="25.6" rx="4" fill="#333"/>
<path d="M1595.1,851.7 q1.6,3 0,6 q-1.6,3 0,6" fill="none" stroke="#d8d8d8" stroke-width="1.7"/>
<path d="M1599.4,851.7 q1.6,3 0,6 q-1.6,3 0,6" fill="none" stroke="#d8d8d8" stroke-width="1.7"/>
<path d="M1603.7,851.7 q1.6,3 0,6 q-1.6,3 0,6" fill="none" stroke="#d8d8d8" stroke-width="1.7"/>
<path d="M1606.6,863.3 C1610.6,858.8 1611.6,849.2 1615.1,845.2" fill="none" stroke="#9a9a9a" stroke-width="1.5"/>
<text x="1555.4" y="882.5" font-size="12" textLength="79.5" lengthAdjust="spacingAndGlyphs" stroke="#2b2b2b" stroke-width="0.45">ИНДИКАТОР</text>
<text x="1555.4" y="895.9" font-size="12" textLength="85.3" lengthAdjust="spacingAndGlyphs" stroke="#2b2b2b" stroke-width="0.45">ВКЛЮЧЕНИЯ</text>
<text x="1555.4" y="909.2" font-size="12" textLength="100.5" lengthAdjust="spacingAndGlyphs" stroke="#2b2b2b" stroke-width="0.45">ПОДОГРЕВ-ЛЯ</text>
<text x="1555.4" y="923.6" font-size="12" textLength="54.1" lengthAdjust="spacingAndGlyphs" stroke="#2b2b2b" stroke-width="0.45">ЛЕВОГО</text>
<text x="1555.4" y="937.8" font-size="12" textLength="65.4" lengthAdjust="spacingAndGlyphs" stroke="#2b2b2b" stroke-width="0.45">СИДЕНЬЯ</text>
<rect x="1638.9" y="765.5" width="123.2" height="118.5" fill="none" stroke="#444" stroke-width="1.3" stroke-dasharray="14,6"/>
<polyline points="1685,679.6 1685,799.4" fill="none" stroke="#2b2b2b" stroke-width="7.4" stroke-linejoin="miter" stroke-linecap="butt"/>
<polyline points="1685,679.6 1685,799.4" fill="none" stroke="#d9d9d9" stroke-width="1.9" stroke-linejoin="miter" stroke-linecap="butt"/>
<rect x="1679" y="727" width="12" height="20" fill="#ececec"/>
<text x="1665.2" y="740.4" font-size="9.6" textLength="39.5" lengthAdjust="spacingAndGlyphs" stroke="#2b2b2b" stroke-width="0.45">RED/YEL</text>
<rect x="1655.8" y="799.4" width="58.9" height="57.7" fill="none" stroke="#2e2e2e" stroke-width="1.4"/>
<circle cx="1685.1" cy="828.5" r="19.3" fill="none" stroke="#2e2e2e" stroke-width="1.6"/>
<path d="M1685.1,799.5 L1685.1,814.5 C1686.1,818.5 1694.1,816.5 1694.1,824.5 C1694.1,827.5 1691.1,828.5 1688.1,828.5 M1688.1,829 C1693.1,829.5 1694.1,831.5 1694.1,834.5 C1694.1,839.5 1688.1,840.5 1685.1,841.5 L1685.1,857" fill="none" stroke="#333" stroke-width="1.4"/>
<ellipse cx="1685.4" cy="828.5" rx="5.2" ry="1.9" fill="none" stroke="#333" stroke-width="1.3"/>
<path d="M1676.5,798.5 C1679,794.5 1683,793.5 1685,793.5 C1687,793.5 1691,794.5 1693.5,798.5" fill="none" stroke="#333" stroke-width="1.2"/>
<path d="M1676.5,862.5 C1679,858.5 1683,857.5 1685,857.5 C1687,857.5 1691,858.5 1693.5,862.5" fill="none" stroke="#333" stroke-width="1.2"/>
<text x="1644.9" y="795.6" font-size="15" font-weight="bold" textLength="29.4" lengthAdjust="spacingAndGlyphs" stroke="#2b2b2b" stroke-width="0.45">E97</text>
<text x="1696.1" y="788.3" font-size="13" stroke="#2b2b2b" stroke-width="0.45">1</text>
<text x="1644.7" y="875" font-size="15" font-weight="bold" textLength="30.4" lengthAdjust="spacingAndGlyphs" stroke="#2b2b2b" stroke-width="0.45">E98</text>
<text x="1695.9" y="874.6" font-size="13" stroke="#2b2b2b" stroke-width="0.45">1</text>
<text transform="translate(1724.1,770.6) rotate(90)" font-size="13" textLength="105.2" lengthAdjust="spacingAndGlyphs" stroke="#2b2b2b" stroke-width="0.45">ПРИКУРИВАТЕЛЬ</text>
<polyline points="1685,857.1 1685,1127.3" fill="none" stroke="#2b2b2b" stroke-width="7.5" stroke-linejoin="miter" stroke-linecap="butt"/>
<rect x="1679" y="896" width="12" height="19" fill="#ececec"/>
<text x="1676.2" y="908.9" font-size="9.6" textLength="17.5" lengthAdjust="spacingAndGlyphs" stroke="#2b2b2b" stroke-width="0.45">BLK</text>
<rect x="1679" y="1014" width="12" height="19" fill="#ececec"/>
<text x="1676.2" y="1026.9" font-size="9.6" textLength="17.5" lengthAdjust="spacingAndGlyphs" stroke="#2b2b2b" stroke-width="0.45">BLK</text>
<path d="M1676.5,984.5 C1679,980.5 1683,979.5 1685,979.5 C1687,979.5 1691,980.5 1693.5,984.5" fill="none" stroke="#333" stroke-width="1.2"/>
<path d="M1676.5,990.5 C1679,986.5 1683,985.5 1685,985.5 C1687,985.5 1691,986.5 1693.5,990.5" fill="none" stroke="#333" stroke-width="1.2"/>
<text x="1646.2" y="982.5" font-size="15" font-weight="bold" textLength="28.4" lengthAdjust="spacingAndGlyphs" stroke="#2b2b2b" stroke-width="0.45">E95</text>
<text x="1646" y="998.6" font-size="15" font-weight="bold" textLength="28.4" lengthAdjust="spacingAndGlyphs" stroke="#2b2b2b" stroke-width="0.45">L83</text>
<text x="1698.3" y="980" font-size="13" stroke="#2b2b2b" stroke-width="0.45">2</text>
<polyline points="1692,983 2014,983" fill="none" stroke="#444" stroke-width="1.2" stroke-dasharray="5,3.5"/>
<path d="M2012.5,983.5 C2015,979.5 2019,978.5 2021,978.5 C2023,978.5 2027,979.5 2029.5,983.5" fill="none" stroke="#333" stroke-width="1.2"/>
<path d="M2012.5,989.5 C2015,985.5 2019,984.5 2021,984.5 C2023,984.5 2027,985.5 2029.5,989.5" fill="none" stroke="#333" stroke-width="1.2"/>
<text x="2037.7" y="979.7" font-size="13" stroke="#2b2b2b" stroke-width="0.45">5</text>
<polygon points="1767.5,825.6 1783.7,799 1783.7,812 1794.4,812 1794.4,799 1810.6,825.6 1794.4,851.4 1794.4,838.8 1783.7,838.8 1783.7,851.4" fill="#ececec" stroke="#333" stroke-width="1.3"/>
<rect x="1815" y="764.5" width="149.8" height="119.5" fill="none" stroke="#444" stroke-width="1.3" stroke-dasharray="14,6"/>
<polyline points="1861.8,764.5 1861.8,799.2" fill="none" stroke="#2b2b2b" stroke-width="7.4" stroke-linejoin="miter" stroke-linecap="butt"/>
<polyline points="1861.8,764.5 1861.8,799.2" fill="none" stroke="#d9d9d9" stroke-width="1.9" stroke-linejoin="miter" stroke-linecap="butt"/>
<rect x="1830.6" y="799.2" width="60" height="58.4" fill="none" stroke="#2e2e2e" stroke-width="1.4"/>
<circle cx="1861.2" cy="828.6" r="19.3" fill="none" stroke="#2e2e2e" stroke-width="1.6"/>
<path d="M1861.2,799.6 L1861.2,814.6 C1862.2,818.6 1870.2,816.6 1870.2,824.6 C1870.2,827.6 1867.2,828.6 1864.2,828.6 M1864.2,829.1 C1869.2,829.6 1870.2,831.6 1870.2,834.6 C1870.2,839.6 1864.2,840.6 1861.2,841.6 L1861.2,857.1" fill="none" stroke="#333" stroke-width="1.4"/>
<ellipse cx="1861.5" cy="828.6" rx="5.2" ry="1.9" fill="none" stroke="#333" stroke-width="1.3"/>
<polyline points="1866,794.6 1895.3,794.6 1895.3,860.4 1866,860.4" fill="none" stroke="#444" stroke-width="1.2" stroke-dasharray="5,3.5"/>
<path d="M1853.3,798.5 C1855.8,794.5 1859.8,793.5 1861.8,793.5 C1863.8,793.5 1867.8,794.5 1870.3,798.5" fill="none" stroke="#333" stroke-width="1.2"/>
<path d="M1853.3,863.5 C1855.8,859.5 1859.8,858.5 1861.8,858.5 C1863.8,858.5 1867.8,859.5 1870.3,863.5" fill="none" stroke="#333" stroke-width="1.2"/>
<text x="1821.2" y="794.3" font-size="15" font-weight="bold" textLength="29.4" lengthAdjust="spacingAndGlyphs" stroke="#2b2b2b" stroke-width="0.45">E99</text>
<text x="1872.5" y="786.3" font-size="13" stroke="#2b2b2b" stroke-width="0.45">1</text>
<text x="1872.4" y="874.4" font-size="13" stroke="#2b2b2b" stroke-width="0.45">3</text>
<polyline points="1862,857.6 1862,883" fill="none" stroke="#2b2b2b" stroke-width="7.5" stroke-linejoin="miter" stroke-linecap="butt"/>
<text transform="translate(1905.1,797.1) rotate(90)" font-size="13" textLength="61.6" lengthAdjust="spacingAndGlyphs" stroke="#2b2b2b" stroke-width="0.45">РОЗЕТКА</text>
<text x="1869.1" y="899.2" font-size="13.5" font-weight="bold" textLength="94.8" lengthAdjust="spacingAndGlyphs" stroke="#2b2b2b" stroke-width="0.45">(если имеется)</text>
<rect x="1990.9" y="799.3" width="59.2" height="57.7" fill="none" stroke="#2e2e2e" stroke-width="1.4"/>
<circle cx="2020.8" cy="828.4" r="19.3" fill="none" stroke="#2e2e2e" stroke-width="1.6"/>
<path d="M2020.8,799.4 L2020.8,814.4 C2021.8,818.4 2029.8,816.4 2029.8,824.4 C2029.8,827.4 2026.8,828.4 2023.8,828.4 M2023.8,828.9 C2028.8,829.4 2029.8,831.4 2029.8,834.4 C2029.8,839.4 2023.8,840.4 2020.8,841.4 L2020.8,856.9" fill="none" stroke="#333" stroke-width="1.4"/>
<ellipse cx="2021.1" cy="828.4" rx="5.2" ry="1.9" fill="none" stroke="#333" stroke-width="1.3"/>
<polyline points="2025,794.5 2056.3,794.5 2056.3,861.1 2025,861.1" fill="none" stroke="#444" stroke-width="1.2" stroke-dasharray="5,3.5"/>
<path d="M2012.5,798.5 C2015,794.5 2019,793.5 2021,793.5 C2023,793.5 2027,794.5 2029.5,798.5" fill="none" stroke="#333" stroke-width="1.2"/>
<path d="M2012.5,862.5 C2015,858.5 2019,857.5 2021,857.5 C2023,857.5 2027,858.5 2029.5,862.5" fill="none" stroke="#333" stroke-width="1.2"/>
<rect x="2015" y="727.2" width="12" height="20" fill="#ececec"/>
<text x="2001.2" y="740.6" font-size="9.6" textLength="39.5" lengthAdjust="spacingAndGlyphs" stroke="#2b2b2b" stroke-width="0.45">RED/YEL</text>
<text x="1982.3" y="795.2" font-size="15" font-weight="bold" textLength="28.5" lengthAdjust="spacingAndGlyphs" stroke="#2b2b2b" stroke-width="0.45">E96</text>
<text x="2032.7" y="786.9" font-size="13" stroke="#2b2b2b" stroke-width="0.45">2</text>
<text x="2032.1" y="874.1" font-size="13" stroke="#2b2b2b" stroke-width="0.45">5</text>
<text transform="translate(2060.7,780.6) rotate(90)" font-size="13" textLength="111.8" lengthAdjust="spacingAndGlyphs" stroke="#2b2b2b" stroke-width="0.45">СЕЛЕКТОР АКПП</text>
<polyline points="2021,857 2021,1070.8 1692.4,1070.8" fill="none" stroke="#2b2b2b" stroke-width="7.5" stroke-linejoin="miter" stroke-linecap="butt"/>
<rect x="2015" y="895.3" width="12" height="19" fill="#ececec"/>
<text x="2000.6" y="908.2" font-size="9.6" textLength="40.8" lengthAdjust="spacingAndGlyphs" stroke="#2b2b2b" stroke-width="0.45">RED/BLU</text>
<polyline points="1180.4,1070.8 1678.1,1070.8" fill="none" stroke="#2b2b2b" stroke-width="7.5" stroke-linejoin="miter" stroke-linecap="butt"/>
<text x="1135.5" y="1074.2" font-size="9.6" textLength="40.6" lengthAdjust="spacingAndGlyphs" stroke="#2b2b2b" stroke-width="0.45">RED/BLU</text>
<rect x="1832.4" y="1064.8" width="50.8" height="12" fill="#ececec"/>
<text x="1837.4" y="1074.2" font-size="9.6" textLength="40.8" lengthAdjust="spacingAndGlyphs" stroke="#2b2b2b" stroke-width="0.45">RED/BLU</text>
<rect x="1678.1" y="1065" width="2.9" height="12" fill="#ececec"/>
<rect x="1689" y="1065" width="3.4" height="12" fill="#ececec"/>
<text x="1289.8" y="1053.5" font-size="15" font-weight="bold" textLength="63.5" lengthAdjust="spacingAndGlyphs" stroke="#2b2b2b" stroke-width="0.45">G76 L62</text>
<path d="M1319.5,1061.5 Q1314.5,1068 1313,1070.8 Q1314.5,1074 1319.5,1080 M1325.5,1061.5 Q1320.5,1068 1319,1070.8 Q1320.5,1074 1325.5,1080" fill="none" stroke="#333" stroke-width="1.3"/>
<text x="1316.9" y="1091.8" font-size="13" stroke="#2b2b2b" stroke-width="0.45">6</text>
<rect x="1654.6" y="1127.3" width="61.8" height="45" fill="none" stroke="#2e2e2e" stroke-width="1.4"/>
<polyline points="1689,1123.3 1722.6,1123.3 1722.6,1176.3 1689,1176.3" fill="none" stroke="#444" stroke-width="1.2" stroke-dasharray="5,3.5"/>
<polyline points="1685,1127.3 1685,1172.3" fill="none" stroke="#333" stroke-width="1.3" stroke-linejoin="miter"/>
<polyline points="1685,1150 1705.8,1150" fill="none" stroke="#333" stroke-width="1.3" stroke-linejoin="miter"/>
<path d="M1705,1140.5 q5,9 0,18" fill="none" stroke="#333" stroke-width="1.3"/>
<path d="M1676.5,1127.5 C1679,1123.5 1683,1122.5 1685,1122.5 C1687,1122.5 1691,1123.5 1693.5,1127.5" fill="none" stroke="#333" stroke-width="1.2"/>
<path d="M1676.5,1178.5 C1679,1174.5 1683,1173.5 1685,1173.5 C1687,1173.5 1691,1174.5 1693.5,1178.5" fill="none" stroke="#333" stroke-width="1.2"/>
<text x="1644.4" y="1122.3" font-size="15" font-weight="bold" textLength="26.1" lengthAdjust="spacingAndGlyphs" stroke="#2b2b2b" stroke-width="0.45">L51</text>
<text x="1695.7" y="1119.6" font-size="13" stroke="#2b2b2b" stroke-width="0.45">8</text>
<text x="1627.7" y="1159.5" font-size="11" textLength="17.1" lengthAdjust="spacingAndGlyphs" stroke="#2b2b2b" stroke-width="0.45">J/C</text>
<text x="1630.7" y="1172.1" font-size="11" textLength="12.2" lengthAdjust="spacingAndGlyphs" stroke="#2b2b2b" stroke-width="0.45">#3</text>
<polyline points="1685.2,1172.3 1685.2,1277" fill="none" stroke="#2b2b2b" stroke-width="7.5" stroke-linejoin="miter" stroke-linecap="butt"/>
<text x="1698.8" y="1187" font-size="13" stroke="#2b2b2b" stroke-width="0.45">1</text>
<rect x="1679.2" y="1224.8" width="12" height="18" fill="#ececec"/>
<text x="1676.5" y="1237.2" font-size="9.6" textLength="17.5" lengthAdjust="spacingAndGlyphs" stroke="#2b2b2b" stroke-width="0.45">BLK</text>
<circle cx="1686" cy="1284.5" r="6.8" fill="none" stroke="#2e2e2e" stroke-width="1.8"/>
<polyline points="1675.5,1291.8 1696.5,1291.8" fill="none" stroke="#333" stroke-width="2.4" stroke-linejoin="miter"/>
<polyline points="1680,1293.3 1676,1298.8" fill="none" stroke="#333" stroke-width="1.6" stroke-linejoin="miter"/>
<polyline points="1686,1293.3 1682,1298.8" fill="none" stroke="#333" stroke-width="1.6" stroke-linejoin="miter"/>
<polyline points="1692,1293.3 1688,1298.8" fill="none" stroke="#333" stroke-width="1.6" stroke-linejoin="miter"/>
<circle cx="1686" cy="1316.2" r="10.3" fill="#2b2b2b"/>
<text x="1686" y="1320.8" font-size="13" font-weight="bold" text-anchor="middle" textLength="13" lengthAdjust="spacingAndGlyphs" fill="#e5e5e5">16</text>
<text transform="translate(2151.3,253.5) rotate(90)" font-size="35.5" textLength="1040" lengthAdjust="spacing" stroke="#2b2b2b" stroke-width="1.25">Схемы электрооборудования (дополнение (Suzuki Ignis))</text>
<text transform="translate(2146.2,1420.1) rotate(90)" font-size="36" stroke="#2b2b2b" stroke-width="0.7">393</text>
<text transform="translate(118,643) rotate(90)" font-size="28.8" font-weight="bold" textLength="262" lengthAdjust="spacingAndGlyphs" stroke="#2b2b2b" stroke-width="0.2">Схема D-6. Подсветка.</text>
<circle cx="379.9" cy="560.8" r="5.6" fill="#2b2b2b"/>
<circle cx="424.5" cy="623.5" r="5.8" fill="#2b2b2b"/>
<circle cx="469.5" cy="568.9" r="5.8" fill="#2b2b2b"/>
<circle cx="662.9" cy="495.8" r="3.8" fill="#2b2b2b"/>
<circle cx="550.1" cy="679.5" r="5.2" fill="#2b2b2b"/>
<circle cx="762.4" cy="679.5" r="5.2" fill="#2b2b2b"/>
<circle cx="968.3" cy="679.5" r="5.2" fill="#2b2b2b"/>
<circle cx="1096.5" cy="679.5" r="5.2" fill="#2b2b2b"/>
<circle cx="549.8" cy="744.1" r="6.2" fill="#2b2b2b"/>
<circle cx="549.8" cy="883.4" r="6.2" fill="#2b2b2b"/>
<circle cx="387.5" cy="1043" r="6.2" fill="#2b2b2b"/>
<circle cx="259.5" cy="1199.2" r="4.8" fill="#2b2b2b"/>
<circle cx="260.5" cy="1240.8" r="5.4" fill="#2b2b2b"/>
<circle cx="968" cy="1070.8" r="6" fill="#2b2b2b"/>
<circle cx="1374.5" cy="679.6" r="6.3" fill="#2b2b2b"/>
<circle cx="1537.6" cy="679.6" r="6.3" fill="#2b2b2b"/>
<circle cx="1685.1" cy="679.6" r="6.3" fill="#2b2b2b"/>
<circle cx="1374.5" cy="1070.8" r="6" fill="#2b2b2b"/>
<circle cx="1537.8" cy="1070.8" r="6" fill="#2b2b2b"/>
<circle cx="1685" cy="1150" r="4.2" fill="#2b2b2b"/>
</g>
</svg>
</body></html>
